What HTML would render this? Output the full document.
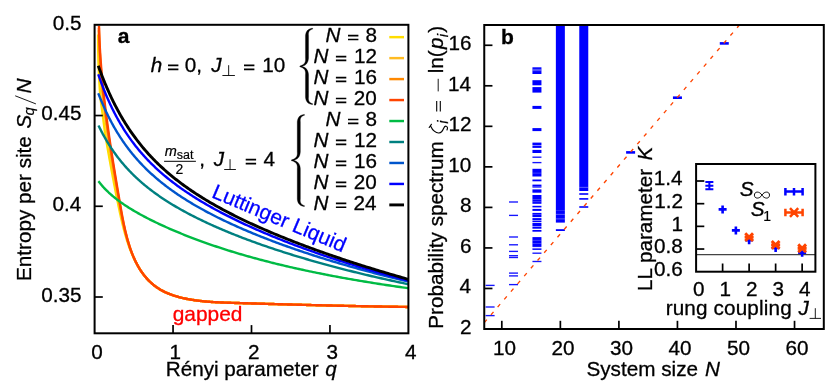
<!DOCTYPE html>
<html><head><meta charset="utf-8"><title>fig</title>
<style>html,body{margin:0;padding:0;background:#fff;width:830px;height:386px;overflow:hidden}</style>
</head><body>
<svg width="830" height="386" viewBox="0 0 830 386" style="position:absolute;left:0;top:0;will-change:transform" font-family='"Liberation Sans", sans-serif' font-size="20.7">
<rect width="830" height="386" fill="#fff"/>
<clipPath id="ca"><rect x="94.6" y="24.8" width="313.79999999999995" height="308.5"/></clipPath>
<g clip-path="url(#ca)" fill="none" stroke-width="2.4" stroke-linejoin="round">
<path d="M98.17,34.44 L98.16,35.51 L98.16,36.57 L98.15,37.64 L98.15,38.70 L98.15,39.77 L98.15,40.83 L98.15,41.89 L98.15,42.96 L98.16,44.02 L98.16,45.08 L98.17,46.14 L98.18,47.20 L98.19,48.26 L98.20,49.32 L98.22,50.38 L98.23,51.44 L98.25,52.50 L98.27,53.56 L98.29,54.62 L98.31,55.68 L98.33,56.74 L98.36,57.79 L98.38,58.85 L98.41,59.91 L98.44,60.96 L98.48,62.02 L98.51,63.07 L98.55,64.13 L98.59,65.18 L98.63,66.24 L98.67,67.29 L98.71,68.35 L98.76,69.40 L98.80,70.45 L98.85,71.51 L98.90,72.56 L98.95,73.61 L99.00,74.66 L99.05,75.71 L99.10,76.77 L99.16,77.82 L99.21,78.87 L99.27,79.92 L99.33,80.97 L99.39,82.02 L99.45,83.07 L99.51,84.12 L99.57,85.17 L99.64,86.22 L99.70,87.26 L99.77,88.31 L99.84,89.36 L99.91,90.41 L99.98,91.46 L100.05,92.50 L100.12,93.55 L100.19,94.60 L100.27,95.65 L100.34,96.69 L100.42,97.74 L100.54,98.79 L100.68,99.83 L100.82,100.88 L100.96,101.92 L101.10,102.97 L101.25,104.01 L101.39,105.06 L101.53,106.10 L101.68,107.15 L101.83,108.19 L101.97,109.24 L102.12,110.28 L102.27,111.33 L102.42,112.37 L102.57,113.41 L102.72,114.46 L102.86,115.50 L102.99,116.54 L103.11,117.59 L103.24,118.63 L103.36,119.67 L103.49,120.72 L103.62,121.76 L103.75,122.80 L103.88,123.84 L104.01,124.89 L104.14,125.93 L104.27,126.97 L104.41,128.01 L104.54,129.05 L104.68,130.10 L104.81,131.14 L104.95,132.18 L105.09,133.22 L105.26,134.26 L105.44,135.30 L105.61,136.34 L105.79,137.39 L105.96,138.43 L106.14,139.47 L106.31,140.51 L106.49,141.55 L106.67,142.59 L106.85,143.63 L107.03,144.67 L107.21,145.71 L107.39,146.76 L107.57,147.80 L107.75,148.84 L107.93,149.88 L108.12,150.92 L108.30,151.96 L108.48,153.00 L108.67,154.04 L108.86,155.08 L109.04,156.12 L109.23,157.16 L109.41,158.21 L109.60,159.25 L109.79,160.29 L109.98,161.33 L110.17,162.37 L110.36,163.41 L110.55,164.45 L110.74,165.49 L110.93,166.53 L111.12,167.58 L111.31,168.62 L111.50,169.66 L111.70,170.70 L111.89,171.74 L112.08,172.78 L112.28,173.82 L112.47,174.87 L112.67,175.91 L112.86,176.95 L113.06,177.99 L113.25,179.03 L113.45,180.08 L113.65,181.12 L113.84,182.16 L114.04,183.20 L114.24,184.25 L114.43,185.29 L114.63,186.33 L114.83,187.38 L115.03,188.42 L115.23,189.46 L115.43,190.51 L115.63,191.55 L115.83,192.59 L116.05,193.64 L116.26,194.68 L116.47,195.72 L116.69,196.77 L116.90,197.81 L117.11,198.86 L117.33,199.90 L117.54,200.95 L117.75,201.99 L117.97,203.04 L118.18,204.09 L118.40,205.13 L118.61,206.18 L118.83,207.22 L119.05,208.27 L119.27,209.31 L119.49,210.36 L119.71,211.41 L119.93,212.45 L120.15,213.50 L120.38,214.54 L120.61,215.59 L120.84,216.64 L121.07,217.68 L121.31,218.73 L121.55,219.77 L121.79,220.82 L122.04,221.86 L122.28,222.91 L122.54,223.95 L122.79,224.99 L123.05,226.04 L123.31,227.08 L123.58,228.12 L123.85,229.16 L124.13,230.21 L124.40,231.25 L124.68,232.29 L124.97,233.33 L125.26,234.37 L125.56,235.41 L125.86,236.44 L126.17,237.48 L126.48,238.52 L126.80,239.56 L127.12,240.59 L127.45,241.63 L127.79,242.66 L128.14,243.69 L128.49,244.72 L128.85,245.75 L129.21,246.78 L129.58,247.80 L129.96,248.82 L130.35,249.84 L130.74,250.85 L131.14,251.86 L131.55,252.87 L131.96,253.87 L132.39,254.87 L132.82,255.86 L133.26,256.85 L133.71,257.83 L134.17,258.80 L134.63,259.77 L135.11,260.73 L135.60,261.68 L136.09,262.63 L136.60,263.57 L137.11,264.50 L137.63,265.43 L138.14,266.34 L138.66,267.25 L139.19,268.14 L139.74,269.03 L140.29,269.91 L140.86,270.77 L141.43,271.63 L142.02,272.48 L142.62,273.31 L143.23,274.14 L143.85,274.95 L144.48,275.75 L145.13,276.54 L145.78,277.32 L146.45,278.09 L147.12,278.85 L147.81,279.59 L148.51,280.32 L149.23,281.04 L149.95,281.74 L150.68,282.44 L151.43,283.12 L152.19,283.78 L152.96,284.44 L153.74,285.08 L154.53,285.70 L155.34,286.31 L156.15,286.91 L156.98,287.49 L157.82,288.06 L158.67,288.61 L159.53,289.15 L160.41,289.67 L161.30,290.18 L162.19,290.67 L163.10,291.15 L164.02,291.61 L164.95,292.06 L165.89,292.50 L166.84,292.92 L167.79,293.33 L168.76,293.73 L169.73,294.11 L170.71,294.48 L171.70,294.84 L172.70,295.19 L173.70,295.53 L174.71,295.85 L175.72,296.16 L176.74,296.47 L177.77,296.76 L178.80,297.04 L179.83,297.31 L180.87,297.57 L181.91,297.83 L182.95,298.07 L184.00,298.30 L185.05,298.53 L186.10,298.74 L187.15,298.95 L188.21,299.15 L189.26,299.35 L190.32,299.53 L191.37,299.71 L192.43,299.88 L193.49,300.04 L194.54,300.20 L195.60,300.35 L196.66,300.50 L197.71,300.64 L198.77,300.77 L199.83,300.89 L200.89,301.02 L201.95,301.13 L203.01,301.24 L204.07,301.35 L205.12,301.45 L206.18,301.54 L207.24,301.63 L208.30,301.72 L209.36,301.80 L210.42,301.88 L211.48,301.95 L212.54,302.02 L213.60,302.09 L214.66,302.15 L215.72,302.21 L216.78,302.27 L217.84,302.32 L218.90,302.37 L219.96,302.42 L221.02,302.47 L222.08,302.51 L223.14,302.56 L224.20,302.60 L225.26,302.64 L226.32,302.67 L227.38,302.71 L228.44,302.74 L229.50,302.78 L230.56,302.81 L231.62,302.84 L232.68,302.88 L233.74,302.91 L234.80,302.94 L235.86,302.97 L236.92,303.00 L237.98,303.03 L239.04,303.07 L240.10,303.10 L241.16,303.13 L242.22,303.16 L243.27,303.19 L244.33,303.22 L245.39,303.25 L246.45,303.28 L247.51,303.32 L248.56,303.35 L249.62,303.38 L250.68,303.41 L251.74,303.44 L252.79,303.47 L253.85,303.50 L254.91,303.53 L255.97,303.56 L257.02,303.59 L258.08,303.62 L259.14,303.65 L260.19,303.68 L261.25,303.71 L262.31,303.75 L263.36,303.78 L264.42,303.81 L265.47,303.84 L266.53,303.87 L267.59,303.90 L268.64,303.93 L269.70,303.95 L270.75,303.98 L271.81,304.01 L272.87,304.04 L273.92,304.07 L274.98,304.10 L276.03,304.13 L277.09,304.16 L278.14,304.19 L279.20,304.22 L280.25,304.25 L281.31,304.28 L282.36,304.31 L283.42,304.34 L284.47,304.36 L285.53,304.39 L286.58,304.42 L287.64,304.45 L288.69,304.48 L289.75,304.51 L290.80,304.53 L291.86,304.56 L292.91,304.59 L293.97,304.62 L295.02,304.65 L296.08,304.67 L297.13,304.70 L298.18,304.73 L299.24,304.76 L300.29,304.78 L301.35,304.81 L302.40,304.84 L303.46,304.87 L304.51,304.89 L305.57,304.92 L306.62,304.95 L307.67,304.97 L308.73,305.00 L309.78,305.03 L310.84,305.05 L311.89,305.08 L312.95,305.11 L314.00,305.13 L315.05,305.16 L316.11,305.18 L317.16,305.21 L318.22,305.24 L319.27,305.26 L320.33,305.29 L321.38,305.31 L322.43,305.34 L323.49,305.36 L324.54,305.39 L325.60,305.41 L326.65,305.44 L327.71,305.46 L328.76,305.49 L329.82,305.51 L330.87,305.54 L331.93,305.56 L332.98,305.58 L334.03,305.61 L335.09,305.63 L336.14,305.66 L337.20,305.68 L338.25,305.70 L339.31,305.73 L340.36,305.75 L341.42,305.77 L342.47,305.80 L343.53,305.82 L344.58,305.84 L345.64,305.87 L346.69,305.89 L347.75,305.91 L348.81,305.93 L349.86,305.96 L350.92,305.98 L351.97,306.00 L353.03,306.02 L354.08,306.04 L355.14,306.06 L356.20,306.09 L357.25,306.11 L358.31,306.13 L359.36,306.15 L360.42,306.17 L361.48,306.19 L362.53,306.21 L363.59,306.23 L364.65,306.25 L365.70,306.27 L366.76,306.29 L367.82,306.31 L368.87,306.33 L369.93,306.35 L370.99,306.37 L372.05,306.39 L373.10,306.41 L374.16,306.43 L375.22,306.45 L376.28,306.47 L377.33,306.49 L378.39,306.51 L379.45,306.52 L380.51,306.54 L381.57,306.56 L382.63,306.58 L383.68,306.60 L384.74,306.61 L385.80,306.63 L386.86,306.65 L387.92,306.67 L388.98,306.68 L390.04,306.70 L391.10,306.72 L392.16,306.73 L393.22,306.75 L394.28,306.77 L395.34,306.78 L396.40,306.80 L397.46,306.81 L398.52,306.83 L399.58,306.85 L400.64,306.86 L401.70,306.88 L402.76,306.89 L403.82,306.91 L404.89,306.92 L405.95,306.94 L407.01,306.95 L408.07,306.96" stroke="#ffdd00"/>
<path d="M98.77,30.17 L98.79,31.24 L98.82,32.31 L98.84,33.38 L98.86,34.44 L98.89,35.51 L98.91,36.57 L98.94,37.64 L98.97,38.70 L98.99,39.77 L99.03,40.83 L99.06,41.89 L99.09,42.96 L99.13,44.02 L99.16,45.08 L99.20,46.14 L99.24,47.20 L99.28,48.26 L99.33,49.32 L99.37,50.38 L99.42,51.44 L99.46,52.50 L99.51,53.56 L99.56,54.62 L99.61,55.68 L99.67,56.74 L99.72,57.79 L99.78,58.85 L99.84,59.91 L99.90,60.96 L99.96,62.02 L100.02,63.07 L100.09,64.13 L100.15,65.18 L100.22,66.24 L100.29,67.29 L100.36,68.35 L100.43,69.40 L100.50,70.45 L100.58,71.51 L100.65,72.56 L100.73,73.61 L100.80,74.66 L100.88,75.71 L100.96,76.77 L101.05,77.82 L101.13,78.87 L101.21,79.92 L101.30,80.97 L101.38,82.02 L101.47,83.07 L101.56,84.12 L101.65,85.17 L101.74,86.22 L101.83,87.26 L101.93,88.31 L102.02,89.36 L102.12,90.41 L102.21,91.46 L102.31,92.50 L102.41,93.55 L102.51,94.60 L102.61,95.65 L102.72,96.69 L102.82,97.74 L102.94,98.79 L103.07,99.83 L103.19,100.88 L103.32,101.92 L103.45,102.97 L103.58,104.01 L103.71,105.06 L103.85,106.10 L103.98,107.15 L104.11,108.19 L104.25,109.24 L104.39,110.28 L104.52,111.33 L104.66,112.37 L104.80,113.41 L104.94,114.46 L105.08,115.50 L105.21,116.54 L105.34,117.59 L105.47,118.63 L105.61,119.67 L105.74,120.72 L105.88,121.76 L106.02,122.80 L106.15,123.84 L106.29,124.89 L106.43,125.93 L106.57,126.97 L106.71,128.01 L106.85,129.05 L107.00,130.10 L107.14,131.14 L107.28,132.18 L107.43,133.22 L107.59,134.26 L107.75,135.30 L107.90,136.34 L108.06,137.39 L108.22,138.43 L108.39,139.47 L108.55,140.51 L108.71,141.55 L108.87,142.59 L109.04,143.63 L109.20,144.67 L109.37,145.71 L109.53,146.76 L109.70,147.80 L109.86,148.84 L110.03,149.88 L110.20,150.92 L110.37,151.96 L110.54,153.00 L110.71,154.04 L110.88,155.08 L111.05,156.12 L111.22,157.16 L111.39,158.21 L111.57,159.25 L111.74,160.29 L111.91,161.33 L112.09,162.37 L112.26,163.41 L112.44,164.45 L112.61,165.49 L112.79,166.53 L112.97,167.58 L113.14,168.62 L113.32,169.66 L113.50,170.70 L113.68,171.74 L113.85,172.78 L114.03,173.82 L114.21,174.87 L114.39,175.91 L114.57,176.95 L114.75,177.99 L114.93,179.03 L115.12,180.08 L115.30,181.12 L115.48,182.16 L115.66,183.20 L115.84,184.25 L116.03,185.29 L116.21,186.33 L116.39,187.38 L116.58,188.42 L116.76,189.46 L116.94,190.51 L117.13,191.55 L117.32,192.59 L117.51,193.64 L117.69,194.68 L117.88,195.72 L118.07,196.77 L118.26,197.81 L118.45,198.86 L118.65,199.90 L118.84,200.95 L119.03,201.99 L119.22,203.04 L119.41,204.09 L119.60,205.13 L119.79,206.18 L119.99,207.22 L120.18,208.27 L120.38,209.31 L120.57,210.36 L120.77,211.41 L120.97,212.45 L121.17,213.50 L121.37,214.54 L121.58,215.59 L121.79,216.64 L122.00,217.68 L122.21,218.73 L122.43,219.77 L122.65,220.82 L122.87,221.86 L123.09,222.91 L123.32,223.95 L123.55,224.99 L123.79,226.04 L124.03,227.08 L124.27,228.12 L124.52,229.16 L124.77,230.21 L125.03,231.25 L125.29,232.29 L125.56,233.33 L125.83,234.37 L126.10,235.41 L126.38,236.44 L126.67,237.48 L126.96,238.52 L127.26,239.56 L127.57,240.59 L127.88,241.63 L128.20,242.66 L128.52,243.69 L128.85,244.72 L129.19,245.75 L129.53,246.78 L129.88,247.80 L130.24,248.82 L130.61,249.84 L130.99,250.85 L131.37,251.86 L131.76,252.87 L132.15,253.87 L132.56,254.87 L132.98,255.86 L133.40,256.85 L133.83,257.83 L134.27,258.80 L134.72,259.77 L135.18,260.73 L135.65,261.68 L136.13,262.63 L136.62,263.57 L137.12,264.50 L137.63,265.43 L138.14,266.34 L138.66,267.25 L139.19,268.14 L139.74,269.03 L140.29,269.91 L140.86,270.77 L141.43,271.63 L142.02,272.48 L142.62,273.31 L143.23,274.14 L143.85,274.95 L144.48,275.75 L145.13,276.54 L145.78,277.32 L146.45,278.09 L147.12,278.85 L147.81,279.59 L148.51,280.32 L149.23,281.04 L149.95,281.74 L150.68,282.44 L151.43,283.12 L152.19,283.78 L152.96,284.44 L153.74,285.08 L154.53,285.70 L155.34,286.31 L156.15,286.91 L156.98,287.49 L157.82,288.06 L158.67,288.61 L159.53,289.15 L160.41,289.67 L161.30,290.18 L162.19,290.67 L163.10,291.15 L164.02,291.61 L164.95,292.06 L165.89,292.50 L166.84,292.92 L167.79,293.33 L168.76,293.73 L169.73,294.11 L170.71,294.48 L171.70,294.84 L172.70,295.19 L173.70,295.53 L174.71,295.85 L175.72,296.16 L176.74,296.47 L177.77,296.76 L178.80,297.04 L179.83,297.31 L180.87,297.57 L181.91,297.83 L182.95,298.07 L184.00,298.30 L185.05,298.53 L186.10,298.74 L187.15,298.95 L188.21,299.15 L189.26,299.35 L190.32,299.53 L191.37,299.71 L192.43,299.88 L193.49,300.04 L194.54,300.20 L195.60,300.35 L196.66,300.50 L197.71,300.64 L198.77,300.77 L199.83,300.89 L200.89,301.02 L201.95,301.13 L203.01,301.24 L204.07,301.35 L205.12,301.45 L206.18,301.54 L207.24,301.63 L208.30,301.72 L209.36,301.80 L210.42,301.88 L211.48,301.95 L212.54,302.02 L213.60,302.09 L214.66,302.15 L215.72,302.21 L216.78,302.27 L217.84,302.32 L218.90,302.37 L219.96,302.42 L221.02,302.47 L222.08,302.51 L223.14,302.56 L224.20,302.60 L225.26,302.64 L226.32,302.67 L227.38,302.71 L228.44,302.74 L229.50,302.78 L230.56,302.81 L231.62,302.84 L232.68,302.88 L233.74,302.91 L234.80,302.94 L235.86,302.97 L236.92,303.00 L237.98,303.03 L239.04,303.07 L240.10,303.10 L241.16,303.13 L242.22,303.16 L243.27,303.19 L244.33,303.22 L245.39,303.25 L246.45,303.28 L247.51,303.32 L248.56,303.35 L249.62,303.38 L250.68,303.41 L251.74,303.44 L252.79,303.47 L253.85,303.50 L254.91,303.53 L255.97,303.56 L257.02,303.59 L258.08,303.62 L259.14,303.65 L260.19,303.68 L261.25,303.71 L262.31,303.75 L263.36,303.78 L264.42,303.81 L265.47,303.84 L266.53,303.87 L267.59,303.90 L268.64,303.93 L269.70,303.95 L270.75,303.98 L271.81,304.01 L272.87,304.04 L273.92,304.07 L274.98,304.10 L276.03,304.13 L277.09,304.16 L278.14,304.19 L279.20,304.22 L280.25,304.25 L281.31,304.28 L282.36,304.31 L283.42,304.34 L284.47,304.36 L285.53,304.39 L286.58,304.42 L287.64,304.45 L288.69,304.48 L289.75,304.51 L290.80,304.53 L291.86,304.56 L292.91,304.59 L293.97,304.62 L295.02,304.65 L296.08,304.67 L297.13,304.70 L298.18,304.73 L299.24,304.76 L300.29,304.78 L301.35,304.81 L302.40,304.84 L303.46,304.87 L304.51,304.89 L305.57,304.92 L306.62,304.95 L307.67,304.97 L308.73,305.00 L309.78,305.03 L310.84,305.05 L311.89,305.08 L312.95,305.11 L314.00,305.13 L315.05,305.16 L316.11,305.18 L317.16,305.21 L318.22,305.24 L319.27,305.26 L320.33,305.29 L321.38,305.31 L322.43,305.34 L323.49,305.36 L324.54,305.39 L325.60,305.41 L326.65,305.44 L327.71,305.46 L328.76,305.49 L329.82,305.51 L330.87,305.54 L331.93,305.56 L332.98,305.58 L334.03,305.61 L335.09,305.63 L336.14,305.66 L337.20,305.68 L338.25,305.70 L339.31,305.73 L340.36,305.75 L341.42,305.77 L342.47,305.80 L343.53,305.82 L344.58,305.84 L345.64,305.87 L346.69,305.89 L347.75,305.91 L348.81,305.93 L349.86,305.96 L350.92,305.98 L351.97,306.00 L353.03,306.02 L354.08,306.04 L355.14,306.06 L356.20,306.09 L357.25,306.11 L358.31,306.13 L359.36,306.15 L360.42,306.17 L361.48,306.19 L362.53,306.21 L363.59,306.23 L364.65,306.25 L365.70,306.27 L366.76,306.29 L367.82,306.31 L368.87,306.33 L369.93,306.35 L370.99,306.37 L372.05,306.39 L373.10,306.41 L374.16,306.43 L375.22,306.45 L376.28,306.47 L377.33,306.49 L378.39,306.51 L379.45,306.52 L380.51,306.54 L381.57,306.56 L382.63,306.58 L383.68,306.60 L384.74,306.61 L385.80,306.63 L386.86,306.65 L387.92,306.67 L388.98,306.68 L390.04,306.70 L391.10,306.72 L392.16,306.73 L393.22,306.75 L394.28,306.77 L395.34,306.78 L396.40,306.80 L397.46,306.81 L398.52,306.83 L399.58,306.85 L400.64,306.86 L401.70,306.88 L402.76,306.89 L403.82,306.91 L404.89,306.92 L405.95,306.94 L407.01,306.95 L408.07,306.96" stroke="#ffbb22"/>
<path d="M98.91,28.04 L98.93,29.11 L98.96,30.17 L98.99,31.24 L99.02,32.31 L99.05,33.38 L99.08,34.44 L99.11,35.51 L99.14,36.57 L99.18,37.64 L99.22,38.70 L99.26,39.77 L99.30,40.83 L99.34,41.89 L99.38,42.96 L99.43,44.02 L99.47,45.08 L99.52,46.14 L99.57,47.20 L99.62,48.26 L99.67,49.32 L99.73,50.38 L99.78,51.44 L99.84,52.50 L99.90,53.56 L99.96,54.62 L100.02,55.68 L100.08,56.74 L100.14,57.79 L100.21,58.85 L100.27,59.91 L100.34,60.96 L100.41,62.02 L100.49,63.07 L100.56,64.13 L100.63,65.18 L100.71,66.24 L100.79,67.29 L100.86,68.35 L100.94,69.40 L101.02,70.45 L101.11,71.51 L101.19,72.56 L101.27,73.61 L101.36,74.66 L101.45,75.71 L101.54,76.77 L101.63,77.82 L101.72,78.87 L101.81,79.92 L101.90,80.97 L102.00,82.02 L102.09,83.07 L102.19,84.12 L102.29,85.17 L102.39,86.22 L102.49,87.26 L102.59,88.31 L102.69,89.36 L102.80,90.41 L102.90,91.46 L103.01,92.50 L103.12,93.55 L103.22,94.60 L103.33,95.65 L103.45,96.69 L103.56,97.74 L103.68,98.79 L103.80,99.83 L103.92,100.88 L104.05,101.92 L104.17,102.97 L104.30,104.01 L104.43,105.06 L104.56,106.10 L104.69,107.15 L104.82,108.19 L104.95,109.24 L105.08,110.28 L105.22,111.33 L105.35,112.37 L105.49,113.41 L105.62,114.46 L105.76,115.50 L105.89,116.54 L106.03,117.59 L106.16,118.63 L106.30,119.67 L106.44,120.72 L106.57,121.76 L106.71,122.80 L106.85,123.84 L106.99,124.89 L107.13,125.93 L107.28,126.97 L107.42,128.01 L107.56,129.05 L107.71,130.10 L107.85,131.14 L108.00,132.18 L108.15,133.22 L108.30,134.26 L108.45,135.30 L108.61,136.34 L108.76,137.39 L108.92,138.43 L109.08,139.47 L109.23,140.51 L109.39,141.55 L109.55,142.59 L109.71,143.63 L109.87,144.67 L110.03,145.71 L110.19,146.76 L110.35,147.80 L110.51,148.84 L110.68,149.88 L110.84,150.92 L111.01,151.96 L111.17,153.00 L111.34,154.04 L111.50,155.08 L111.67,156.12 L111.83,157.16 L112.00,158.21 L112.17,159.25 L112.34,160.29 L112.51,161.33 L112.68,162.37 L112.85,163.41 L113.02,164.45 L113.19,165.49 L113.36,166.53 L113.53,167.58 L113.71,168.62 L113.88,169.66 L114.05,170.70 L114.22,171.74 L114.40,172.78 L114.57,173.82 L114.75,174.87 L114.92,175.91 L115.10,176.95 L115.27,177.99 L115.45,179.03 L115.63,180.08 L115.80,181.12 L115.98,182.16 L116.16,183.20 L116.34,184.25 L116.52,185.29 L116.69,186.33 L116.87,187.38 L117.05,188.42 L117.23,189.46 L117.41,190.51 L117.59,191.55 L117.77,192.59 L117.95,193.64 L118.14,194.68 L118.32,195.72 L118.50,196.77 L118.68,197.81 L118.87,198.86 L119.05,199.90 L119.23,200.95 L119.42,201.99 L119.60,203.04 L119.79,204.09 L119.97,205.13 L120.16,206.18 L120.34,207.22 L120.53,208.27 L120.72,209.31 L120.91,210.36 L121.10,211.41 L121.29,212.45 L121.48,213.50 L121.68,214.54 L121.88,215.59 L122.08,216.64 L122.28,217.68 L122.49,218.73 L122.70,219.77 L122.91,220.82 L123.12,221.86 L123.34,222.91 L123.56,223.95 L123.79,224.99 L124.02,226.04 L124.25,227.08 L124.49,228.12 L124.73,229.16 L124.97,230.21 L125.22,231.25 L125.48,232.29 L125.74,233.33 L126.00,234.37 L126.27,235.41 L126.54,236.44 L126.83,237.48 L127.11,238.52 L127.40,239.56 L127.70,240.59 L128.01,241.63 L128.32,242.66 L128.64,243.69 L128.96,244.72 L129.29,245.75 L129.63,246.78 L129.98,247.80 L130.33,248.82 L130.69,249.84 L131.06,250.85 L131.44,251.86 L131.82,252.87 L132.21,253.87 L132.61,254.87 L133.02,255.86 L133.44,256.85 L133.87,257.83 L134.31,258.80 L134.75,259.77 L135.21,260.73 L135.67,261.68 L136.15,262.63 L136.63,263.57 L137.12,264.50 L137.63,265.43 L138.14,266.34 L138.66,267.25 L139.19,268.14 L139.74,269.03 L140.29,269.91 L140.86,270.77 L141.43,271.63 L142.02,272.48 L142.62,273.31 L143.23,274.14 L143.85,274.95 L144.48,275.75 L145.13,276.54 L145.78,277.32 L146.45,278.09 L147.12,278.85 L147.81,279.59 L148.51,280.32 L149.23,281.04 L149.95,281.74 L150.68,282.44 L151.43,283.12 L152.19,283.78 L152.96,284.44 L153.74,285.08 L154.53,285.70 L155.34,286.31 L156.15,286.91 L156.98,287.49 L157.82,288.06 L158.67,288.61 L159.53,289.15 L160.41,289.67 L161.30,290.18 L162.19,290.67 L163.10,291.15 L164.02,291.61 L164.95,292.06 L165.89,292.50 L166.84,292.92 L167.79,293.33 L168.76,293.73 L169.73,294.11 L170.71,294.48 L171.70,294.84 L172.70,295.19 L173.70,295.53 L174.71,295.85 L175.72,296.16 L176.74,296.47 L177.77,296.76 L178.80,297.04 L179.83,297.31 L180.87,297.57 L181.91,297.83 L182.95,298.07 L184.00,298.30 L185.05,298.53 L186.10,298.74 L187.15,298.95 L188.21,299.15 L189.26,299.35 L190.32,299.53 L191.37,299.71 L192.43,299.88 L193.49,300.04 L194.54,300.20 L195.60,300.35 L196.66,300.50 L197.71,300.64 L198.77,300.77 L199.83,300.89 L200.89,301.02 L201.95,301.13 L203.01,301.24 L204.07,301.35 L205.12,301.45 L206.18,301.54 L207.24,301.63 L208.30,301.72 L209.36,301.80 L210.42,301.88 L211.48,301.95 L212.54,302.02 L213.60,302.09 L214.66,302.15 L215.72,302.21 L216.78,302.27 L217.84,302.32 L218.90,302.37 L219.96,302.42 L221.02,302.47 L222.08,302.51 L223.14,302.56 L224.20,302.60 L225.26,302.64 L226.32,302.67 L227.38,302.71 L228.44,302.74 L229.50,302.78 L230.56,302.81 L231.62,302.84 L232.68,302.88 L233.74,302.91 L234.80,302.94 L235.86,302.97 L236.92,303.00 L237.98,303.03 L239.04,303.07 L240.10,303.10 L241.16,303.13 L242.22,303.16 L243.27,303.19 L244.33,303.22 L245.39,303.25 L246.45,303.28 L247.51,303.32 L248.56,303.35 L249.62,303.38 L250.68,303.41 L251.74,303.44 L252.79,303.47 L253.85,303.50 L254.91,303.53 L255.97,303.56 L257.02,303.59 L258.08,303.62 L259.14,303.65 L260.19,303.68 L261.25,303.71 L262.31,303.75 L263.36,303.78 L264.42,303.81 L265.47,303.84 L266.53,303.87 L267.59,303.90 L268.64,303.93 L269.70,303.95 L270.75,303.98 L271.81,304.01 L272.87,304.04 L273.92,304.07 L274.98,304.10 L276.03,304.13 L277.09,304.16 L278.14,304.19 L279.20,304.22 L280.25,304.25 L281.31,304.28 L282.36,304.31 L283.42,304.34 L284.47,304.36 L285.53,304.39 L286.58,304.42 L287.64,304.45 L288.69,304.48 L289.75,304.51 L290.80,304.53 L291.86,304.56 L292.91,304.59 L293.97,304.62 L295.02,304.65 L296.08,304.67 L297.13,304.70 L298.18,304.73 L299.24,304.76 L300.29,304.78 L301.35,304.81 L302.40,304.84 L303.46,304.87 L304.51,304.89 L305.57,304.92 L306.62,304.95 L307.67,304.97 L308.73,305.00 L309.78,305.03 L310.84,305.05 L311.89,305.08 L312.95,305.11 L314.00,305.13 L315.05,305.16 L316.11,305.18 L317.16,305.21 L318.22,305.24 L319.27,305.26 L320.33,305.29 L321.38,305.31 L322.43,305.34 L323.49,305.36 L324.54,305.39 L325.60,305.41 L326.65,305.44 L327.71,305.46 L328.76,305.49 L329.82,305.51 L330.87,305.54 L331.93,305.56 L332.98,305.58 L334.03,305.61 L335.09,305.63 L336.14,305.66 L337.20,305.68 L338.25,305.70 L339.31,305.73 L340.36,305.75 L341.42,305.77 L342.47,305.80 L343.53,305.82 L344.58,305.84 L345.64,305.87 L346.69,305.89 L347.75,305.91 L348.81,305.93 L349.86,305.96 L350.92,305.98 L351.97,306.00 L353.03,306.02 L354.08,306.04 L355.14,306.06 L356.20,306.09 L357.25,306.11 L358.31,306.13 L359.36,306.15 L360.42,306.17 L361.48,306.19 L362.53,306.21 L363.59,306.23 L364.65,306.25 L365.70,306.27 L366.76,306.29 L367.82,306.31 L368.87,306.33 L369.93,306.35 L370.99,306.37 L372.05,306.39 L373.10,306.41 L374.16,306.43 L375.22,306.45 L376.28,306.47 L377.33,306.49 L378.39,306.51 L379.45,306.52 L380.51,306.54 L381.57,306.56 L382.63,306.58 L383.68,306.60 L384.74,306.61 L385.80,306.63 L386.86,306.65 L387.92,306.67 L388.98,306.68 L390.04,306.70 L391.10,306.72 L392.16,306.73 L393.22,306.75 L394.28,306.77 L395.34,306.78 L396.40,306.80 L397.46,306.81 L398.52,306.83 L399.58,306.85 L400.64,306.86 L401.70,306.88 L402.76,306.89 L403.82,306.91 L404.89,306.92 L405.95,306.94 L407.01,306.95 L408.07,306.96" stroke="#ff8800"/>
<path d="M98.98,25.90 L99.01,26.97 L99.04,28.04 L99.07,29.11 L99.10,30.17 L99.13,31.24 L99.17,32.31 L99.20,33.38 L99.24,34.44 L99.28,35.51 L99.32,36.57 L99.36,37.64 L99.41,38.70 L99.45,39.77 L99.50,40.83 L99.55,41.89 L99.60,42.96 L99.65,44.02 L99.70,45.08 L99.76,46.14 L99.81,47.20 L99.87,48.26 L99.93,49.32 L99.99,50.38 L100.05,51.44 L100.12,52.50 L100.18,53.56 L100.25,54.62 L100.32,55.68 L100.39,56.74 L100.46,57.79 L100.53,58.85 L100.60,59.91 L100.68,60.96 L100.76,62.02 L100.83,63.07 L100.91,64.13 L100.99,65.18 L101.07,66.24 L101.16,67.29 L101.24,68.35 L101.33,69.40 L101.42,70.45 L101.50,71.51 L101.59,72.56 L101.69,73.61 L101.78,74.66 L101.87,75.71 L101.97,76.77 L102.06,77.82 L102.16,78.87 L102.26,79.92 L102.36,80.97 L102.46,82.02 L102.56,83.07 L102.66,84.12 L102.77,85.17 L102.87,86.22 L102.98,87.26 L103.09,88.31 L103.20,89.36 L103.31,90.41 L103.42,91.46 L103.53,92.50 L103.65,93.55 L103.76,94.60 L103.88,95.65 L103.99,96.69 L104.11,97.74 L104.23,98.79 L104.35,99.83 L104.47,100.88 L104.59,101.92 L104.72,102.97 L104.84,104.01 L104.96,105.06 L105.09,106.10 L105.22,107.15 L105.35,108.19 L105.47,109.24 L105.60,110.28 L105.74,111.33 L105.87,112.37 L106.00,113.41 L106.13,114.46 L106.27,115.50 L106.40,116.54 L106.54,117.59 L106.68,118.63 L106.82,119.67 L106.96,120.72 L107.10,121.76 L107.24,122.80 L107.38,123.84 L107.52,124.89 L107.66,125.93 L107.81,126.97 L107.95,128.01 L108.10,129.05 L108.24,130.10 L108.39,131.14 L108.54,132.18 L108.69,133.22 L108.84,134.26 L108.99,135.30 L109.14,136.34 L109.29,137.39 L109.44,138.43 L109.60,139.47 L109.75,140.51 L109.90,141.55 L110.06,142.59 L110.21,143.63 L110.37,144.67 L110.53,145.71 L110.69,146.76 L110.84,147.80 L111.00,148.84 L111.16,149.88 L111.32,150.92 L111.48,151.96 L111.64,153.00 L111.81,154.04 L111.97,155.08 L112.13,156.12 L112.30,157.16 L112.46,158.21 L112.62,159.25 L112.79,160.29 L112.95,161.33 L113.12,162.37 L113.29,163.41 L113.45,164.45 L113.62,165.49 L113.79,166.53 L113.96,167.58 L114.13,168.62 L114.30,169.66 L114.47,170.70 L114.64,171.74 L114.81,172.78 L114.98,173.82 L115.15,174.87 L115.32,175.91 L115.49,176.95 L115.67,177.99 L115.84,179.03 L116.01,180.08 L116.19,181.12 L116.36,182.16 L116.53,183.20 L116.71,184.25 L116.88,185.29 L117.06,186.33 L117.23,187.38 L117.41,188.42 L117.58,189.46 L117.76,190.51 L117.94,191.55 L118.11,192.59 L118.29,193.64 L118.47,194.68 L118.64,195.72 L118.82,196.77 L119.00,197.81 L119.18,198.86 L119.36,199.90 L119.53,200.95 L119.71,201.99 L119.89,203.04 L120.07,204.09 L120.25,205.13 L120.43,206.18 L120.61,207.22 L120.79,208.27 L120.97,209.31 L121.16,210.36 L121.34,211.41 L121.53,212.45 L121.72,213.50 L121.91,214.54 L122.10,215.59 L122.30,216.64 L122.50,217.68 L122.70,218.73 L122.90,219.77 L123.11,220.82 L123.31,221.86 L123.53,222.91 L123.74,223.95 L123.96,224.99 L124.19,226.04 L124.41,227.08 L124.65,228.12 L124.88,229.16 L125.12,230.21 L125.37,231.25 L125.62,232.29 L125.87,233.33 L126.13,234.37 L126.40,235.41 L126.67,236.44 L126.94,237.48 L127.22,238.52 L127.51,239.56 L127.81,240.59 L128.11,241.63 L128.41,242.66 L128.73,243.69 L129.05,244.72 L129.37,245.75 L129.71,246.78 L130.05,247.80 L130.40,248.82 L130.75,249.84 L131.12,250.85 L131.49,251.86 L131.87,252.87 L132.26,253.87 L132.66,254.87 L133.06,255.86 L133.48,256.85 L133.90,257.83 L134.33,258.80 L134.77,259.77 L135.22,260.73 L135.68,261.68 L136.16,262.63 L136.64,263.57 L137.13,264.50 L137.63,265.43 L138.14,266.34 L138.66,267.25 L139.19,268.14 L139.74,269.03 L140.29,269.91 L140.86,270.77 L141.43,271.63 L142.02,272.48 L142.62,273.31 L143.23,274.14 L143.85,274.95 L144.48,275.75 L145.13,276.54 L145.78,277.32 L146.45,278.09 L147.12,278.85 L147.81,279.59 L148.51,280.32 L149.23,281.04 L149.95,281.74 L150.68,282.44 L151.43,283.12 L152.19,283.78 L152.96,284.44 L153.74,285.08 L154.53,285.70 L155.34,286.31 L156.15,286.91 L156.98,287.49 L157.82,288.06 L158.67,288.61 L159.53,289.15 L160.41,289.67 L161.30,290.18 L162.19,290.67 L163.10,291.15 L164.02,291.61 L164.95,292.06 L165.89,292.50 L166.84,292.92 L167.79,293.33 L168.76,293.73 L169.73,294.11 L170.71,294.48 L171.70,294.84 L172.70,295.19 L173.70,295.53 L174.71,295.85 L175.72,296.16 L176.74,296.47 L177.77,296.76 L178.80,297.04 L179.83,297.31 L180.87,297.57 L181.91,297.83 L182.95,298.07 L184.00,298.30 L185.05,298.53 L186.10,298.74 L187.15,298.95 L188.21,299.15 L189.26,299.35 L190.32,299.53 L191.37,299.71 L192.43,299.88 L193.49,300.04 L194.54,300.20 L195.60,300.35 L196.66,300.50 L197.71,300.64 L198.77,300.77 L199.83,300.89 L200.89,301.02 L201.95,301.13 L203.01,301.24 L204.07,301.35 L205.12,301.45 L206.18,301.54 L207.24,301.63 L208.30,301.72 L209.36,301.80 L210.42,301.88 L211.48,301.95 L212.54,302.02 L213.60,302.09 L214.66,302.15 L215.72,302.21 L216.78,302.27 L217.84,302.32 L218.90,302.37 L219.96,302.42 L221.02,302.47 L222.08,302.51 L223.14,302.56 L224.20,302.60 L225.26,302.64 L226.32,302.67 L227.38,302.71 L228.44,302.74 L229.50,302.78 L230.56,302.81 L231.62,302.84 L232.68,302.88 L233.74,302.91 L234.80,302.94 L235.86,302.97 L236.92,303.00 L237.98,303.03 L239.04,303.07 L240.10,303.10 L241.16,303.13 L242.22,303.16 L243.27,303.19 L244.33,303.22 L245.39,303.25 L246.45,303.28 L247.51,303.32 L248.56,303.35 L249.62,303.38 L250.68,303.41 L251.74,303.44 L252.79,303.47 L253.85,303.50 L254.91,303.53 L255.97,303.56 L257.02,303.59 L258.08,303.62 L259.14,303.65 L260.19,303.68 L261.25,303.71 L262.31,303.75 L263.36,303.78 L264.42,303.81 L265.47,303.84 L266.53,303.87 L267.59,303.90 L268.64,303.93 L269.70,303.95 L270.75,303.98 L271.81,304.01 L272.87,304.04 L273.92,304.07 L274.98,304.10 L276.03,304.13 L277.09,304.16 L278.14,304.19 L279.20,304.22 L280.25,304.25 L281.31,304.28 L282.36,304.31 L283.42,304.34 L284.47,304.36 L285.53,304.39 L286.58,304.42 L287.64,304.45 L288.69,304.48 L289.75,304.51 L290.80,304.53 L291.86,304.56 L292.91,304.59 L293.97,304.62 L295.02,304.65 L296.08,304.67 L297.13,304.70 L298.18,304.73 L299.24,304.76 L300.29,304.78 L301.35,304.81 L302.40,304.84 L303.46,304.87 L304.51,304.89 L305.57,304.92 L306.62,304.95 L307.67,304.97 L308.73,305.00 L309.78,305.03 L310.84,305.05 L311.89,305.08 L312.95,305.11 L314.00,305.13 L315.05,305.16 L316.11,305.18 L317.16,305.21 L318.22,305.24 L319.27,305.26 L320.33,305.29 L321.38,305.31 L322.43,305.34 L323.49,305.36 L324.54,305.39 L325.60,305.41 L326.65,305.44 L327.71,305.46 L328.76,305.49 L329.82,305.51 L330.87,305.54 L331.93,305.56 L332.98,305.58 L334.03,305.61 L335.09,305.63 L336.14,305.66 L337.20,305.68 L338.25,305.70 L339.31,305.73 L340.36,305.75 L341.42,305.77 L342.47,305.80 L343.53,305.82 L344.58,305.84 L345.64,305.87 L346.69,305.89 L347.75,305.91 L348.81,305.93 L349.86,305.96 L350.92,305.98 L351.97,306.00 L353.03,306.02 L354.08,306.04 L355.14,306.06 L356.20,306.09 L357.25,306.11 L358.31,306.13 L359.36,306.15 L360.42,306.17 L361.48,306.19 L362.53,306.21 L363.59,306.23 L364.65,306.25 L365.70,306.27 L366.76,306.29 L367.82,306.31 L368.87,306.33 L369.93,306.35 L370.99,306.37 L372.05,306.39 L373.10,306.41 L374.16,306.43 L375.22,306.45 L376.28,306.47 L377.33,306.49 L378.39,306.51 L379.45,306.52 L380.51,306.54 L381.57,306.56 L382.63,306.58 L383.68,306.60 L384.74,306.61 L385.80,306.63 L386.86,306.65 L387.92,306.67 L388.98,306.68 L390.04,306.70 L391.10,306.72 L392.16,306.73 L393.22,306.75 L394.28,306.77 L395.34,306.78 L396.40,306.80 L397.46,306.81 L398.52,306.83 L399.58,306.85 L400.64,306.86 L401.70,306.88 L402.76,306.89 L403.82,306.91 L404.89,306.92 L405.95,306.94 L407.01,306.95 L408.07,306.96" stroke="#ff4400"/>
<path d="M98.40,181.11 L98.45,181.17 L98.55,181.30 L98.68,181.48 L98.85,181.69 L99.04,181.94 L99.25,182.21 L99.49,182.52 L99.75,182.85 L100.03,183.19 L100.33,183.56 L100.65,183.95 L100.99,184.36 L101.34,184.78 L101.71,185.21 L102.10,185.66 L102.50,186.12 L102.91,186.59 L103.35,187.07 L103.79,187.56 L104.26,188.06 L104.73,188.56 L105.22,189.07 L105.72,189.59 L106.24,190.11 L106.77,190.64 L107.31,191.17 L107.86,191.71 L108.43,192.25 L109.01,192.79 L109.60,193.33 L110.21,193.88 L110.82,194.43 L111.45,194.98 L112.09,195.53 L112.74,196.08 L113.40,196.63 L114.07,197.19 L114.75,197.74 L115.45,198.30 L116.15,198.85 L116.87,199.40 L117.59,199.96 L118.33,200.51 L119.08,201.07 L119.83,201.62 L120.60,202.17 L121.38,202.73 L122.16,203.28 L122.96,203.83 L123.77,204.38 L124.58,204.93 L125.41,205.48 L126.25,206.03 L127.09,206.58 L127.95,207.13 L128.81,207.67 L129.68,208.22 L130.57,208.77 L131.46,209.31 L132.36,209.85 L133.27,210.40 L134.19,210.94 L135.12,211.48 L136.05,212.03 L137.00,212.57 L137.95,213.11 L138.92,213.65 L139.89,214.19 L140.87,214.73 L141.86,215.27 L142.86,215.80 L143.86,216.34 L144.88,216.88 L145.90,217.42 L146.93,217.95 L147.97,218.49 L149.02,219.02 L150.07,219.56 L151.14,220.09 L152.21,220.62 L153.29,221.16 L154.38,221.69 L155.48,222.22 L156.58,222.75 L157.69,223.28 L158.81,223.81 L159.94,224.34 L161.08,224.87 L162.22,225.40 L163.37,225.93 L164.53,226.45 L165.70,226.98 L166.87,227.50 L168.05,228.03 L169.24,228.55 L170.44,229.08 L171.64,229.60 L172.85,230.12 L174.07,230.64 L175.30,231.16 L176.53,231.68 L177.78,232.20 L179.02,232.72 L180.28,233.23 L181.54,233.75 L182.81,234.26 L184.09,234.78 L185.38,235.29 L186.67,235.80 L187.97,236.31 L189.27,236.82 L190.59,237.33 L191.91,237.83 L193.24,238.34 L194.57,238.84 L195.91,239.35 L197.26,239.85 L198.62,240.35 L199.98,240.85 L201.35,241.35 L202.72,241.85 L204.11,242.34 L205.50,242.84 L206.89,243.33 L208.30,243.82 L209.71,244.31 L211.12,244.80 L212.55,245.29 L213.98,245.77 L215.41,246.26 L216.86,246.74 L218.31,247.22 L219.76,247.70 L221.23,248.18 L222.70,248.65 L224.17,249.13 L225.66,249.60 L227.15,250.07 L228.64,250.54 L230.14,251.01 L231.65,251.48 L233.17,251.94 L234.69,252.40 L236.22,252.87 L237.75,253.32 L239.29,253.78 L240.84,254.24 L242.39,254.69 L243.95,255.14 L245.52,255.60 L247.09,256.04 L248.67,256.49 L250.26,256.94 L251.85,257.38 L253.44,257.82 L255.05,258.26 L256.66,258.70 L258.27,259.13 L259.90,259.57 L261.52,260.00 L263.16,260.43 L264.80,260.86 L266.44,261.28 L268.10,261.71 L269.76,262.13 L271.42,262.55 L273.09,262.97 L274.77,263.39 L276.45,263.80 L278.14,264.21 L279.83,264.62 L281.53,265.03 L283.24,265.44 L284.95,265.85 L286.67,266.25 L288.40,266.65 L290.13,267.05 L291.86,267.45 L293.60,267.84 L295.35,268.24 L297.11,268.63 L298.87,269.02 L300.63,269.41 L302.40,269.79 L304.18,270.18 L305.96,270.56 L307.75,270.94 L309.54,271.32 L311.34,271.69 L313.15,272.07 L314.96,272.44 L316.78,272.81 L318.60,273.18 L320.43,273.55 L322.26,273.91 L324.10,274.28 L325.95,274.64 L327.80,275.00 L329.65,275.35 L331.52,275.71 L333.38,276.06 L335.26,276.42 L337.14,276.77 L339.02,277.11 L340.91,277.46 L342.81,277.81 L344.71,278.15 L346.61,278.49 L348.53,278.83 L350.44,279.17 L352.37,279.50 L354.30,279.84 L356.23,280.17 L358.17,280.50 L360.11,280.83 L362.06,281.15 L364.02,281.48 L365.98,281.80 L367.95,282.12 L369.92,282.44 L371.90,282.76 L373.88,283.08 L375.87,283.39 L377.86,283.70 L379.86,284.02 L381.86,284.32 L383.87,284.63 L385.89,284.94 L387.91,285.24 L389.93,285.55 L391.96,285.85 L394.00,286.15 L396.04,286.44 L398.09,286.74 L400.14,287.04 L402.20,287.33 L404.26,287.62 L406.33,287.91 L408.40,288.20" stroke="#00bb44"/>
<path d="M98.50,125.49 L98.55,125.59 L98.65,125.79 L98.78,126.07 L98.95,126.41 L99.14,126.80 L99.35,127.24 L99.59,127.73 L99.85,128.25 L100.13,128.81 L100.43,129.40 L100.75,130.03 L101.09,130.69 L101.44,131.37 L101.81,132.08 L102.19,132.81 L102.60,133.56 L103.01,134.34 L103.45,135.13 L103.89,135.94 L104.35,136.77 L104.83,137.62 L105.32,138.47 L105.82,139.34 L106.34,140.22 L106.87,141.12 L107.41,142.02 L107.96,142.93 L108.53,143.85 L109.11,144.78 L109.70,145.71 L110.30,146.65 L110.92,147.59 L111.54,148.54 L112.18,149.49 L112.83,150.44 L113.49,151.40 L114.16,152.36 L114.85,153.32 L115.54,154.28 L116.25,155.24 L116.96,156.20 L117.69,157.16 L118.42,158.12 L119.17,159.07 L119.93,160.03 L120.69,160.99 L121.47,161.94 L122.26,162.89 L123.05,163.83 L123.86,164.78 L124.68,165.72 L125.50,166.65 L126.34,167.59 L127.18,168.52 L128.04,169.44 L128.90,170.37 L129.77,171.28 L130.66,172.20 L131.55,173.11 L132.45,174.01 L133.36,174.91 L134.28,175.81 L135.21,176.70 L136.14,177.58 L137.09,178.46 L138.04,179.34 L139.00,180.21 L139.98,181.08 L140.96,181.94 L141.95,182.80 L142.94,183.65 L143.95,184.50 L144.96,185.34 L145.98,186.18 L147.02,187.01 L148.05,187.84 L149.10,188.66 L150.16,189.48 L151.22,190.29 L152.29,191.10 L153.37,191.90 L154.46,192.70 L155.56,193.50 L156.66,194.29 L157.77,195.08 L158.89,195.86 L160.02,196.64 L161.16,197.41 L162.30,198.18 L163.45,198.94 L164.61,199.70 L165.77,200.46 L166.95,201.21 L168.13,201.96 L169.32,202.71 L170.51,203.45 L171.72,204.18 L172.93,204.92 L174.15,205.65 L175.37,206.37 L176.61,207.10 L177.85,207.81 L179.10,208.53 L180.35,209.24 L181.62,209.95 L182.89,210.66 L184.16,211.36 L185.45,212.06 L186.74,212.75 L188.04,213.44 L189.35,214.13 L190.66,214.82 L191.98,215.50 L193.31,216.18 L194.64,216.86 L195.98,217.53 L197.33,218.20 L198.68,218.87 L200.05,219.54 L201.41,220.20 L202.79,220.86 L204.17,221.52 L205.56,222.17 L206.96,222.82 L208.36,223.47 L209.77,224.12 L211.19,224.77 L212.61,225.41 L214.04,226.05 L215.48,226.68 L216.92,227.32 L218.37,227.95 L219.82,228.58 L221.29,229.21 L222.76,229.83 L224.23,230.46 L225.71,231.08 L227.20,231.70 L228.70,232.31 L230.20,232.93 L231.71,233.54 L233.22,234.15 L234.75,234.75 L236.27,235.36 L237.81,235.96 L239.35,236.56 L240.89,237.16 L242.45,237.76 L244.01,238.35 L245.57,238.95 L247.14,239.54 L248.72,240.12 L250.31,240.71 L251.90,241.30 L253.49,241.88 L255.10,242.46 L256.71,243.04 L258.32,243.61 L259.94,244.19 L261.57,244.76 L263.20,245.33 L264.84,245.90 L266.49,246.47 L268.14,247.03 L269.80,247.60 L271.46,248.16 L273.14,248.72 L274.81,249.27 L276.49,249.83 L278.18,250.38 L279.88,250.93 L281.58,251.48 L283.28,252.03 L284.99,252.58 L286.71,253.12 L288.44,253.66 L290.16,254.20 L291.90,254.74 L293.64,255.28 L295.39,255.81 L297.14,256.35 L298.90,256.88 L300.67,257.41 L302.44,257.94 L304.21,258.46 L305.99,258.99 L307.78,259.51 L309.58,260.03 L311.37,260.55 L313.18,261.06 L314.99,261.58 L316.81,262.09 L318.63,262.60 L320.46,263.11 L322.29,263.62 L324.13,264.13 L325.97,264.63 L327.82,265.13 L329.68,265.63 L331.54,266.13 L333.41,266.63 L335.28,267.13 L337.16,267.62 L339.04,268.11 L340.93,268.60 L342.83,269.09 L344.73,269.58 L346.63,270.06 L348.55,270.54 L350.46,271.03 L352.38,271.50 L354.31,271.98 L356.25,272.46 L358.19,272.93 L360.13,273.41 L362.08,273.88 L364.03,274.35 L365.99,274.81 L367.96,275.28 L369.93,275.74 L371.91,276.21 L373.89,276.67 L375.88,277.13 L377.87,277.58 L379.87,278.04 L381.87,278.49 L383.88,278.94 L385.90,279.40 L387.92,279.84 L389.94,280.29 L391.97,280.74 L394.01,281.18 L396.05,281.62 L398.09,282.06 L400.14,282.50 L402.20,282.94 L404.26,283.37 L406.33,283.81 L408.40,284.24" stroke="#008080"/>
<path d="M98.25,93.23 L98.30,93.35 L98.40,93.61 L98.53,93.96 L98.70,94.38 L98.89,94.87 L99.10,95.42 L99.34,96.02 L99.60,96.68 L99.88,97.37 L100.18,98.12 L100.50,98.90 L100.84,99.72 L101.19,100.57 L101.56,101.45 L101.95,102.37 L102.35,103.31 L102.77,104.28 L103.20,105.27 L103.65,106.28 L104.11,107.32 L104.58,108.37 L105.07,109.44 L105.58,110.53 L106.09,111.63 L106.62,112.74 L107.16,113.87 L107.72,115.01 L108.29,116.16 L108.87,117.32 L109.46,118.48 L110.06,119.65 L110.68,120.83 L111.30,122.01 L111.94,123.20 L112.59,124.39 L113.25,125.59 L113.93,126.78 L114.61,127.98 L115.30,129.18 L116.01,130.37 L116.73,131.57 L117.45,132.77 L118.19,133.96 L118.94,135.15 L119.69,136.34 L120.46,137.53 L121.24,138.71 L122.03,139.89 L122.82,141.07 L123.63,142.24 L124.45,143.41 L125.27,144.57 L126.11,145.72 L126.96,146.87 L127.81,148.02 L128.68,149.16 L129.55,150.29 L130.43,151.42 L131.32,152.54 L132.23,153.66 L133.14,154.76 L134.06,155.86 L134.98,156.96 L135.92,158.05 L136.87,159.13 L137.82,160.20 L138.79,161.27 L139.76,162.33 L140.74,163.38 L141.73,164.43 L142.73,165.47 L143.73,166.50 L144.75,167.52 L145.77,168.54 L146.80,169.55 L147.84,170.55 L148.89,171.55 L149.95,172.54 L151.01,173.52 L152.09,174.50 L153.17,175.47 L154.26,176.43 L155.35,177.39 L156.46,178.34 L157.57,179.28 L158.69,180.22 L159.82,181.15 L160.96,182.07 L162.10,182.99 L163.25,183.90 L164.41,184.81 L165.58,185.71 L166.75,186.60 L167.94,187.49 L169.12,188.37 L170.32,189.25 L171.53,190.12 L172.74,190.98 L173.96,191.84 L175.19,192.70 L176.42,193.55 L177.66,194.39 L178.91,195.23 L180.17,196.07 L181.43,196.90 L182.70,197.72 L183.98,198.54 L185.27,199.36 L186.56,200.17 L187.86,200.97 L189.17,201.78 L190.48,202.57 L191.80,203.37 L193.13,204.16 L194.47,204.94 L195.81,205.72 L197.16,206.50 L198.51,207.27 L199.88,208.04 L201.25,208.80 L202.62,209.56 L204.01,210.32 L205.40,211.07 L206.80,211.82 L208.20,212.57 L209.61,213.31 L211.03,214.05 L212.45,214.79 L213.88,215.52 L215.32,216.25 L216.76,216.98 L218.21,217.70 L219.67,218.42 L221.14,219.14 L222.61,219.85 L224.08,220.56 L225.57,221.27 L227.06,221.97 L228.55,222.67 L230.06,223.37 L231.57,224.07 L233.08,224.76 L234.61,225.45 L236.13,226.14 L237.67,226.83 L239.21,227.51 L240.76,228.19 L242.31,228.87 L243.87,229.54 L245.44,230.21 L247.01,230.88 L248.59,231.55 L250.18,232.21 L251.77,232.88 L253.37,233.54 L254.97,234.19 L256.58,234.85 L258.20,235.50 L259.82,236.15 L261.45,236.80 L263.09,237.44 L264.73,238.09 L266.38,238.73 L268.03,239.37 L269.69,240.00 L271.35,240.64 L273.03,241.27 L274.70,241.90 L276.39,242.53 L278.08,243.16 L279.77,243.78 L281.47,244.40 L283.18,245.02 L284.89,245.64 L286.61,246.25 L288.34,246.87 L290.07,247.48 L291.81,248.09 L293.55,248.69 L295.30,249.30 L297.05,249.90 L298.81,250.50 L300.58,251.10 L302.35,251.70 L304.13,252.29 L305.91,252.89 L307.70,253.48 L309.50,254.07 L311.30,254.66 L313.10,255.24 L314.91,255.82 L316.73,256.41 L318.56,256.98 L320.39,257.56 L322.22,258.14 L324.06,258.71 L325.91,259.28 L327.76,259.85 L329.62,260.42 L331.48,260.99 L333.35,261.55 L335.22,262.11 L337.10,262.67 L338.99,263.23 L340.88,263.79 L342.77,264.34 L344.68,264.90 L346.58,265.45 L348.50,266.00 L350.42,266.55 L352.34,267.09 L354.27,267.64 L356.20,268.18 L358.14,268.72 L360.09,269.26 L362.04,269.79 L364.00,270.33 L365.96,270.86 L367.93,271.39 L369.90,271.92 L371.88,272.45 L373.86,272.97 L375.85,273.50 L377.85,274.02 L379.85,274.54 L381.85,275.06 L383.86,275.58 L385.88,276.09 L387.90,276.60 L389.93,277.12 L391.96,277.62 L393.99,278.13 L396.04,278.64 L398.08,279.14 L400.14,279.65 L402.19,280.15 L404.26,280.65 L406.33,281.14 L408.40,281.64" stroke="#0055cc"/>
<path d="M98.25,74.23 L98.30,74.37 L98.40,74.66 L98.53,75.05 L98.70,75.53 L98.89,76.08 L99.10,76.70 L99.34,77.38 L99.60,78.12 L99.88,78.91 L100.18,79.75 L100.50,80.63 L100.84,81.55 L101.19,82.51 L101.56,83.51 L101.95,84.54 L102.35,85.60 L102.77,86.69 L103.20,87.80 L103.65,88.94 L104.11,90.10 L104.58,91.29 L105.07,92.49 L105.58,93.71 L106.09,94.95 L106.62,96.20 L107.16,97.46 L107.72,98.74 L108.29,100.02 L108.87,101.32 L109.46,102.62 L110.06,103.93 L110.68,105.25 L111.30,106.57 L111.94,107.90 L112.59,109.22 L113.25,110.55 L113.93,111.89 L114.61,113.22 L115.30,114.55 L116.01,115.88 L116.73,117.21 L117.45,118.54 L118.19,119.87 L118.94,121.19 L119.69,122.51 L120.46,123.83 L121.24,125.14 L122.03,126.44 L122.82,127.74 L123.63,129.04 L124.45,130.33 L125.27,131.61 L126.11,132.89 L126.96,134.15 L127.81,135.42 L128.68,136.67 L129.55,137.92 L130.43,139.16 L131.32,140.39 L132.23,141.62 L133.14,142.83 L134.06,144.04 L134.98,145.24 L135.92,146.43 L136.87,147.62 L137.82,148.79 L138.79,149.96 L139.76,151.12 L140.74,152.27 L141.73,153.41 L142.73,154.55 L143.73,155.67 L144.75,156.79 L145.77,157.90 L146.80,159.00 L147.84,160.09 L148.89,161.17 L149.95,162.25 L151.01,163.32 L152.09,164.38 L153.17,165.43 L154.26,166.48 L155.35,167.52 L156.46,168.55 L157.57,169.57 L158.69,170.58 L159.82,171.59 L160.96,172.59 L162.10,173.59 L163.25,174.57 L164.41,175.55 L165.58,176.53 L166.75,177.49 L167.94,178.45 L169.12,179.41 L170.32,180.35 L171.53,181.29 L172.74,182.23 L173.96,183.16 L175.19,184.08 L176.42,185.00 L177.66,185.91 L178.91,186.81 L180.17,187.71 L181.43,188.61 L182.70,189.50 L183.98,190.38 L185.27,191.26 L186.56,192.13 L187.86,193.00 L189.17,193.87 L190.48,194.72 L191.80,195.58 L193.13,196.43 L194.47,197.27 L195.81,198.12 L197.16,198.95 L198.51,199.78 L199.88,200.61 L201.25,201.44 L202.62,202.26 L204.01,203.07 L205.40,203.88 L206.80,204.69 L208.20,205.49 L209.61,206.30 L211.03,207.09 L212.45,207.89 L213.88,208.68 L215.32,209.46 L216.76,210.24 L218.21,211.02 L219.67,211.80 L221.14,212.57 L222.61,213.34 L224.08,214.11 L225.57,214.87 L227.06,215.63 L228.55,216.39 L230.06,217.15 L231.57,217.90 L233.08,218.65 L234.61,219.39 L236.13,220.13 L237.67,220.88 L239.21,221.61 L240.76,222.35 L242.31,223.08 L243.87,223.81 L245.44,224.54 L247.01,225.26 L248.59,225.98 L250.18,226.70 L251.77,227.42 L253.37,228.13 L254.97,228.85 L256.58,229.56 L258.20,230.26 L259.82,230.97 L261.45,231.67 L263.09,232.37 L264.73,233.07 L266.38,233.76 L268.03,234.46 L269.69,235.15 L271.35,235.84 L273.03,236.52 L274.70,237.21 L276.39,237.89 L278.08,238.57 L279.77,239.25 L281.47,239.93 L283.18,240.60 L284.89,241.27 L286.61,241.94 L288.34,242.61 L290.07,243.27 L291.81,243.94 L293.55,244.60 L295.30,245.26 L297.05,245.92 L298.81,246.57 L300.58,247.22 L302.35,247.88 L304.13,248.53 L305.91,249.17 L307.70,249.82 L309.50,250.46 L311.30,251.10 L313.10,251.74 L314.91,252.38 L316.73,253.01 L318.56,253.65 L320.39,254.28 L322.22,254.91 L324.06,255.54 L325.91,256.16 L327.76,256.79 L329.62,257.41 L331.48,258.03 L333.35,258.65 L335.22,259.26 L337.10,259.88 L338.99,260.49 L340.88,261.10 L342.77,261.71 L344.68,262.31 L346.58,262.92 L348.50,263.52 L350.42,264.12 L352.34,264.72 L354.27,265.32 L356.20,265.91 L358.14,266.51 L360.09,267.10 L362.04,267.69 L364.00,268.28 L365.96,268.86 L367.93,269.45 L369.90,270.03 L371.88,270.61 L373.86,271.19 L375.85,271.77 L377.85,272.34 L379.85,272.91 L381.85,273.48 L383.86,274.05 L385.88,274.62 L387.90,275.19 L389.93,275.75 L391.96,276.31 L393.99,276.87 L396.04,277.43 L398.08,277.99 L400.14,278.54 L402.19,279.09 L404.26,279.64 L406.33,280.19 L408.40,280.74" stroke="#0000ff"/>
<path d="M98.25,65.67 L98.30,65.81 L98.40,66.09 L98.53,66.46 L98.70,66.92 L98.89,67.45 L99.10,68.05 L99.34,68.71 L99.60,69.42 L99.88,70.18 L100.18,70.99 L100.50,71.85 L100.84,72.74 L101.19,73.67 L101.56,74.64 L101.95,75.65 L102.35,76.68 L102.77,77.75 L103.20,78.84 L103.65,79.96 L104.11,81.10 L104.58,82.26 L105.07,83.45 L105.58,84.65 L106.09,85.88 L106.62,87.12 L107.16,88.37 L107.72,89.64 L108.29,90.92 L108.87,92.22 L109.46,93.52 L110.06,94.84 L110.68,96.16 L111.30,97.49 L111.94,98.83 L112.59,100.17 L113.25,101.52 L113.93,102.87 L114.61,104.23 L115.30,105.58 L116.01,106.94 L116.73,108.30 L117.45,109.66 L118.19,111.02 L118.94,112.38 L119.69,113.74 L120.46,115.10 L121.24,116.45 L122.03,117.80 L122.82,119.15 L123.63,120.50 L124.45,121.84 L125.27,123.17 L126.11,124.50 L126.96,125.83 L127.81,127.15 L128.68,128.46 L129.55,129.77 L130.43,131.08 L131.32,132.37 L132.23,133.66 L133.14,134.94 L134.06,136.22 L134.98,137.48 L135.92,138.74 L136.87,140.00 L137.82,141.24 L138.79,142.48 L139.76,143.71 L140.74,144.93 L141.73,146.14 L142.73,147.35 L143.73,148.54 L144.75,149.73 L145.77,150.91 L146.80,152.08 L147.84,153.25 L148.89,154.40 L149.95,155.55 L151.01,156.69 L152.09,157.82 L153.17,158.94 L154.26,160.06 L155.35,161.16 L156.46,162.26 L157.57,163.35 L158.69,164.44 L159.82,165.51 L160.96,166.58 L162.10,167.63 L163.25,168.69 L164.41,169.73 L165.58,170.77 L166.75,171.79 L167.94,172.82 L169.12,173.83 L170.32,174.84 L171.53,175.83 L172.74,176.83 L173.96,177.81 L175.19,178.79 L176.42,179.76 L177.66,180.73 L178.91,181.69 L180.17,182.64 L181.43,183.58 L182.70,184.52 L183.98,185.46 L185.27,186.38 L186.56,187.30 L187.86,188.22 L189.17,189.13 L190.48,190.03 L191.80,190.93 L193.13,191.82 L194.47,192.71 L195.81,193.59 L197.16,194.47 L198.51,195.34 L199.88,196.20 L201.25,197.07 L202.62,197.92 L204.01,198.77 L205.40,199.62 L206.80,200.46 L208.20,201.30 L209.61,202.13 L211.03,202.96 L212.45,203.78 L213.88,204.60 L215.32,205.42 L216.76,206.23 L218.21,207.04 L219.67,207.84 L221.14,208.64 L222.61,209.44 L224.08,210.23 L225.57,211.02 L227.06,211.81 L228.55,212.59 L230.06,213.37 L231.57,214.14 L233.08,214.91 L234.61,215.68 L236.13,216.45 L237.67,217.21 L239.21,217.97 L240.76,218.72 L242.31,219.48 L243.87,220.23 L245.44,220.97 L247.01,221.72 L248.59,222.46 L250.18,223.20 L251.77,223.93 L253.37,224.67 L254.97,225.40 L256.58,226.13 L258.20,226.85 L259.82,227.57 L261.45,228.29 L263.09,229.01 L264.73,229.73 L266.38,230.44 L268.03,231.15 L269.69,231.86 L271.35,232.57 L273.03,233.27 L274.70,233.98 L276.39,234.68 L278.08,235.37 L279.77,236.07 L281.47,236.76 L283.18,237.46 L284.89,238.14 L286.61,238.83 L288.34,239.52 L290.07,240.20 L291.81,240.88 L293.55,241.56 L295.30,242.24 L297.05,242.92 L298.81,243.59 L300.58,244.27 L302.35,244.94 L304.13,245.61 L305.91,246.27 L307.70,246.94 L309.50,247.60 L311.30,248.26 L313.10,248.92 L314.91,249.58 L316.73,250.24 L318.56,250.89 L320.39,251.55 L322.22,252.20 L324.06,252.85 L325.91,253.50 L327.76,254.15 L329.62,254.79 L331.48,255.43 L333.35,256.08 L335.22,256.72 L337.10,257.36 L338.99,257.99 L340.88,258.63 L342.77,259.26 L344.68,259.90 L346.58,260.53 L348.50,261.16 L350.42,261.78 L352.34,262.41 L354.27,263.04 L356.20,263.66 L358.14,264.28 L360.09,264.90 L362.04,265.52 L364.00,266.14 L365.96,266.76 L367.93,267.37 L369.90,267.98 L371.88,268.59 L373.86,269.20 L375.85,269.81 L377.85,270.42 L379.85,271.03 L381.85,271.63 L383.86,272.23 L385.88,272.83 L387.90,273.43 L389.93,274.03 L391.96,274.63 L393.99,275.22 L396.04,275.82 L398.08,276.41 L400.14,277.00 L402.19,277.59 L404.26,278.18 L406.33,278.77 L408.40,279.35" stroke="#000000" stroke-width="2.9"/>
</g>
<rect x="94.6" y="24.8" width="313.80" height="308.50" fill="none" stroke="#000" stroke-width="2"/>
<text x="91.14" y="358.80" stroke="#000" stroke-width="0.30">0</text>
<line x1="173.05" y1="333.3" x2="173.05" y2="325.1" stroke="#000" stroke-width="1.7"/>
<text x="169.59" y="358.80" stroke="#000" stroke-width="0.30">1</text>
<line x1="251.50" y1="333.3" x2="251.50" y2="325.1" stroke="#000" stroke-width="1.7"/>
<text x="248.04" y="358.80" stroke="#000" stroke-width="0.30">2</text>
<line x1="329.95" y1="333.3" x2="329.95" y2="325.1" stroke="#000" stroke-width="1.7"/>
<text x="326.49" y="358.80" stroke="#000" stroke-width="0.30">3</text>
<text x="404.94" y="358.80" stroke="#000" stroke-width="0.30">4</text>
<line x1="94.6" y1="297.01" x2="102.8" y2="297.01" stroke="#000" stroke-width="1.7"/>
<text x="41.37" y="301.71" stroke="#000" stroke-width="0.30">0.35</text>
<line x1="94.6" y1="206.27" x2="102.8" y2="206.27" stroke="#000" stroke-width="1.7"/>
<text x="52.60" y="210.97" stroke="#000" stroke-width="0.30">0.4</text>
<line x1="94.6" y1="115.54" x2="102.8" y2="115.54" stroke="#000" stroke-width="1.7"/>
<text x="41.37" y="120.24" stroke="#000" stroke-width="0.30">0.45</text>
<text x="52.85" y="29.50" stroke="#000" stroke-width="0.30">0.5</text>
<text x="165.69" y="375.80" stroke="#000" stroke-width="0.30">Rényi parameter</text>
<text x="325.33" y="375.80" font-style="italic" stroke="#000" stroke-width="0.30">q</text>
<text transform="translate(31.00,281.01) rotate(-90)" stroke="#000" stroke-width="0.30">Entropy per site</text>
<text transform="translate(31.00,128.47) rotate(-90)" font-style="italic" stroke="#000" stroke-width="0.30">S</text>
<text transform="translate(34.00,115.39) rotate(-90)" font-style="italic" font-size="15.0" stroke="#000" stroke-width="0.22">q</text>
<line x1="35.9" y1="103.9" x2="15.2" y2="95.8" stroke="#000" stroke-width="0.9"/>
<text transform="translate(31.00,93.42) rotate(-90)" font-style="italic" stroke="#000" stroke-width="0.30">N</text>
<text x="117.67" y="43.30" font-weight="bold" font-size="21" stroke="#000" stroke-width="0.30">a</text>
<line x1="389.3" y1="37.15" x2="404" y2="37.15" stroke="#ffdd00" stroke-width="2.45"/>
<text x="365.39" y="42.05" stroke="#000" stroke-width="0.30">8</text>
<path d="M348.00,35.60 h10.4 M348.00,39.50 h10.4" stroke="#000" stroke-width="1.7" fill="none"/>
<text x="325.58" y="42.05" font-style="italic" stroke="#000" stroke-width="0.30">N</text>
<line x1="389.3" y1="58.12" x2="404" y2="58.12" stroke="#ffbb22" stroke-width="2.45"/>
<text x="354.06" y="63.02" stroke="#000" stroke-width="0.30">12</text>
<path d="M335.90,56.57 h10.4 M335.90,60.47 h10.4" stroke="#000" stroke-width="1.7" fill="none"/>
<text x="313.48" y="63.02" font-style="italic" stroke="#000" stroke-width="0.30">N</text>
<line x1="389.3" y1="79.09" x2="404" y2="79.09" stroke="#ff8800" stroke-width="2.45"/>
<text x="353.90" y="83.99" stroke="#000" stroke-width="0.30">16</text>
<path d="M335.90,77.54 h10.4 M335.90,81.44 h10.4" stroke="#000" stroke-width="1.7" fill="none"/>
<text x="313.48" y="83.99" font-style="italic" stroke="#000" stroke-width="0.30">N</text>
<line x1="389.3" y1="100.06" x2="404" y2="100.06" stroke="#ff4400" stroke-width="2.45"/>
<text x="353.80" y="104.96" stroke="#000" stroke-width="0.30">20</text>
<path d="M335.90,98.51 h10.4 M335.90,102.41 h10.4" stroke="#000" stroke-width="1.7" fill="none"/>
<text x="313.48" y="104.96" font-style="italic" stroke="#000" stroke-width="0.30">N</text>
<line x1="389.3" y1="121.03" x2="404" y2="121.03" stroke="#00bb44" stroke-width="2.45"/>
<text x="365.39" y="125.93" stroke="#000" stroke-width="0.30">8</text>
<path d="M348.00,119.48 h10.4 M348.00,123.38 h10.4" stroke="#000" stroke-width="1.7" fill="none"/>
<text x="325.58" y="125.93" font-style="italic" stroke="#000" stroke-width="0.30">N</text>
<line x1="389.3" y1="142.00" x2="404" y2="142.00" stroke="#008080" stroke-width="2.45"/>
<text x="354.06" y="146.90" stroke="#000" stroke-width="0.30">12</text>
<path d="M335.90,140.45 h10.4 M335.90,144.35 h10.4" stroke="#000" stroke-width="1.7" fill="none"/>
<text x="313.48" y="146.90" font-style="italic" stroke="#000" stroke-width="0.30">N</text>
<line x1="389.3" y1="162.97" x2="404" y2="162.97" stroke="#0055cc" stroke-width="2.45"/>
<text x="353.90" y="167.87" stroke="#000" stroke-width="0.30">16</text>
<path d="M335.90,161.42 h10.4 M335.90,165.32 h10.4" stroke="#000" stroke-width="1.7" fill="none"/>
<text x="313.48" y="167.87" font-style="italic" stroke="#000" stroke-width="0.30">N</text>
<line x1="389.3" y1="183.94" x2="404" y2="183.94" stroke="#0000ff" stroke-width="2.45"/>
<text x="353.80" y="188.84" stroke="#000" stroke-width="0.30">20</text>
<path d="M335.90,182.39 h10.4 M335.90,186.29 h10.4" stroke="#000" stroke-width="1.7" fill="none"/>
<text x="313.48" y="188.84" font-style="italic" stroke="#000" stroke-width="0.30">N</text>
<line x1="389.3" y1="204.91" x2="404" y2="204.91" stroke="#000000" stroke-width="2.9"/>
<text x="353.59" y="209.81" stroke="#000" stroke-width="0.30">24</text>
<path d="M335.90,203.36 h10.4 M335.90,207.26 h10.4" stroke="#000" stroke-width="1.7" fill="none"/>
<text x="313.48" y="209.81" font-style="italic" stroke="#000" stroke-width="0.30">N</text>
<text x="150.74" y="71.90" font-style="italic" stroke="#000" stroke-width="0.30">h</text>
<path d="M168.00,65.45 h10.4 M168.00,69.35 h10.4" stroke="#000" stroke-width="1.7" fill="none"/>
<text x="184.67" y="71.90" stroke="#000" stroke-width="0.30">0,</text>
<text x="211.35" y="71.90" font-style="italic" stroke="#000" stroke-width="0.30">J</text>
<path d="M222.40,75.50 H234.90 M228.65,75.50 V65.20" stroke="#000" stroke-width="0.9" fill="none"/>
<path d="M244.00,65.45 h10.4 M244.00,69.35 h10.4" stroke="#000" stroke-width="1.7" fill="none"/>
<text x="262.15" y="71.90" stroke="#000" stroke-width="0.30">10</text>
<text x="164.65" y="156.00" font-style="italic" font-size="14.5" stroke="#000" stroke-width="0.21">m</text>
<text x="176.86" y="159.20" font-size="12.5" stroke="#000" stroke-width="0.18">sat</text>
<line x1="164.1" y1="161.3" x2="195.9" y2="161.3" stroke="#000" stroke-width="1"/>
<text x="175.62" y="173.90" font-size="14.0" stroke="#000" stroke-width="0.20">2</text>
<text x="199.14" y="166.10" stroke="#000" stroke-width="0.30">,</text>
<text x="213.65" y="166.10" font-style="italic" stroke="#000" stroke-width="0.30">J</text>
<path d="M224.20,169.50 H235.90 M230.05,169.50 V159.20" stroke="#000" stroke-width="0.9" fill="none"/>
<path d="M245.70,159.65 h10.4 M245.70,163.55 h10.4" stroke="#000" stroke-width="1.7" fill="none"/>
<text x="263.43" y="166.10" stroke="#000" stroke-width="0.30">4</text>
<path d="M312.61,28.21 L311.78,28.32 L310.98,28.48 L310.24,28.69 L309.54,28.96 L308.90,29.28 L308.30,29.66 L307.76,30.11 L307.26,30.62 L306.83,31.19 L306.46,31.82 L306.15,32.49 L305.90,33.21 L305.70,33.97 L305.55,34.77 L305.45,35.60 L305.45,57.90 L305.50,58.80 L305.51,59.61 L305.46,60.36 L305.37,61.03 L305.22,61.64 L305.03,62.21 L304.78,62.73 L304.46,63.23 L304.07,63.70 L303.60,64.15 L303.04,64.57 L302.40,64.97 L301.66,65.34 L300.83,65.69 L299.90,66.01 L300.10,66.79 L301.09,66.60 L302.03,66.38 L302.90,66.12 L303.71,65.81 L304.47,65.45 L305.18,65.02 L305.82,64.52 L306.41,63.94 L306.92,63.29 L307.37,62.56 L307.74,61.76 L308.04,60.90 L308.28,59.97 L308.44,58.97 L308.55,57.90 L308.55,35.60 L308.49,34.93 L308.47,34.31 L308.48,33.73 L308.54,33.19 L308.63,32.68 L308.76,32.21 L308.94,31.77 L309.17,31.34 L309.46,30.94 L309.81,30.55 L310.24,30.18 L310.75,29.84 L311.34,29.53 L312.02,29.24 L312.79,28.99Z M312.79,103.81 L312.02,103.56 L311.34,103.27 L310.75,102.96 L310.24,102.62 L309.81,102.25 L309.46,101.86 L309.17,101.46 L308.94,101.03 L308.76,100.59 L308.63,100.12 L308.54,99.61 L308.48,99.07 L308.47,98.49 L308.49,97.87 L308.55,97.20 L308.55,74.90 L308.44,73.83 L308.28,72.83 L308.04,71.90 L307.74,71.04 L307.37,70.24 L306.92,69.51 L306.41,68.86 L305.82,68.28 L305.18,67.78 L304.47,67.35 L303.71,66.99 L302.90,66.68 L302.03,66.42 L301.09,66.20 L300.10,66.01 L299.90,66.79 L300.83,67.11 L301.66,67.46 L302.40,67.83 L303.04,68.23 L303.60,68.65 L304.07,69.10 L304.46,69.57 L304.78,70.07 L305.03,70.59 L305.22,71.16 L305.37,71.77 L305.46,72.44 L305.51,73.19 L305.50,74.00 L305.45,74.90 L305.45,97.20 L305.55,98.03 L305.70,98.83 L305.90,99.59 L306.15,100.31 L306.46,100.98 L306.83,101.61 L307.26,102.18 L307.76,102.69 L308.30,103.14 L308.90,103.52 L309.54,103.84 L310.24,104.11 L310.98,104.32 L311.78,104.48 L312.61,104.59Z" fill="#000" stroke="#000" stroke-width="0.3" stroke-linejoin="round"/>
<path d="M304.41,114.41 L303.58,114.52 L302.78,114.68 L302.04,114.89 L301.34,115.16 L300.70,115.48 L300.10,115.86 L299.56,116.31 L299.06,116.82 L298.63,117.39 L298.26,118.02 L297.95,118.69 L297.70,119.41 L297.50,120.17 L297.35,120.97 L297.25,121.80 L297.25,151.80 L297.30,152.70 L297.31,153.51 L297.26,154.25 L297.16,154.93 L297.02,155.54 L296.82,156.10 L296.56,156.63 L296.24,157.12 L295.84,157.59 L295.35,158.04 L294.77,158.46 L294.10,158.86 L293.33,159.24 L292.47,159.59 L291.50,159.91 L291.70,160.69 L292.73,160.50 L293.69,160.29 L294.59,160.03 L295.43,159.72 L296.20,159.35 L296.92,158.93 L297.58,158.43 L298.18,157.85 L298.71,157.20 L299.16,156.47 L299.54,155.67 L299.84,154.80 L300.08,153.87 L300.24,152.87 L300.35,151.80 L300.35,121.80 L300.29,121.13 L300.27,120.51 L300.28,119.93 L300.34,119.39 L300.43,118.88 L300.56,118.41 L300.74,117.97 L300.97,117.54 L301.26,117.14 L301.61,116.75 L302.04,116.38 L302.55,116.04 L303.14,115.73 L303.82,115.44 L304.59,115.19Z M304.59,205.71 L303.82,205.46 L303.14,205.17 L302.55,204.86 L302.04,204.52 L301.61,204.15 L301.26,203.76 L300.97,203.36 L300.74,202.93 L300.56,202.49 L300.43,202.02 L300.34,201.51 L300.28,200.97 L300.27,200.39 L300.29,199.77 L300.35,199.10 L300.35,168.80 L300.24,167.73 L300.08,166.73 L299.84,165.80 L299.54,164.93 L299.16,164.13 L298.71,163.40 L298.18,162.75 L297.58,162.17 L296.92,161.67 L296.20,161.25 L295.43,160.88 L294.59,160.57 L293.69,160.31 L292.73,160.10 L291.70,159.91 L291.50,160.69 L292.47,161.01 L293.33,161.36 L294.10,161.74 L294.77,162.14 L295.35,162.56 L295.84,163.01 L296.24,163.48 L296.56,163.97 L296.82,164.50 L297.02,165.06 L297.16,165.67 L297.26,166.35 L297.31,167.09 L297.30,167.90 L297.25,168.80 L297.25,199.10 L297.35,199.93 L297.50,200.73 L297.70,201.49 L297.95,202.21 L298.26,202.88 L298.63,203.51 L299.06,204.08 L299.56,204.59 L300.10,205.04 L300.70,205.42 L301.34,205.74 L302.04,206.01 L302.78,206.22 L303.58,206.38 L304.41,206.49Z" fill="#000" stroke="#000" stroke-width="0.3" stroke-linejoin="round"/>
<text transform="translate(212.3,197.7) rotate(22.8) translate(-1.72,0)" font-size="20.9" fill="#0000ff" stroke="#0000ff" stroke-width="0.3">Luttinger Liquid</text>
<text x="172.71" y="320.70" font-size="20.9" fill="#ff0000" stroke="#ff0000" stroke-width="0.30">gapped</text>
<clipPath id="cb"><rect x="484.25" y="25.0" width="339.55" height="304.0"/></clipPath>
<g clip-path="url(#cb)">
<rect x="485.60" y="314.93" width="9.0" height="1.35" fill="#0000ff" fill-opacity="0.92"/>
<rect x="485.60" y="306.32" width="9.0" height="1.35" fill="#0000ff" fill-opacity="0.92"/>
<rect x="485.60" y="284.72" width="9.0" height="1.35" fill="#0000ff" fill-opacity="0.92"/>
<rect x="509.02" y="283.93" width="9.0" height="1.35" fill="#0000ff" fill-opacity="0.92"/>
<rect x="509.02" y="275.22" width="9.0" height="1.35" fill="#0000ff" fill-opacity="0.92"/>
<rect x="509.02" y="272.43" width="9.0" height="1.35" fill="#0000ff" fill-opacity="0.92"/>
<rect x="509.02" y="256.82" width="9.0" height="1.35" fill="#0000ff" fill-opacity="0.92"/>
<rect x="509.02" y="255.02" width="9.0" height="1.35" fill="#0000ff" fill-opacity="0.92"/>
<rect x="509.02" y="250.72" width="9.0" height="1.35" fill="#0000ff" fill-opacity="0.92"/>
<rect x="509.02" y="244.12" width="9.0" height="1.35" fill="#0000ff" fill-opacity="0.92"/>
<rect x="509.02" y="236.32" width="9.0" height="1.35" fill="#0000ff" fill-opacity="0.92"/>
<rect x="509.02" y="214.72" width="9.0" height="1.35" fill="#0000ff" fill-opacity="0.92"/>
<rect x="509.02" y="201.32" width="9.0" height="1.35" fill="#0000ff" fill-opacity="0.92"/>
<rect x="532.44" y="260.82" width="9.0" height="1.35" fill="#0000ff" fill-opacity="0.92"/>
<rect x="532.44" y="252.52" width="9.0" height="1.35" fill="#0000ff" fill-opacity="0.92"/>
<rect x="532.44" y="248.62" width="9.0" height="1.35" fill="#0000ff" fill-opacity="0.92"/>
<rect x="532.44" y="161.92" width="9.0" height="1.35" fill="#0000ff" fill-opacity="0.92"/>
<rect x="532.44" y="156.52" width="9.0" height="1.35" fill="#0000ff" fill-opacity="0.92"/>
<rect x="532.44" y="247.90" width="9.0" height="0.50" fill="#0000ff" fill-opacity="1"/>
<rect x="532.44" y="237.10" width="9.0" height="9.80" fill="#0000ff" fill-opacity="1"/>
<rect x="532.44" y="230.00" width="9.0" height="1.70" fill="#0000ff" fill-opacity="1"/>
<rect x="532.44" y="226.70" width="9.0" height="2.00" fill="#0000ff" fill-opacity="1"/>
<rect x="532.44" y="222.90" width="9.0" height="3.30" fill="#0000ff" fill-opacity="1"/>
<rect x="532.44" y="220.60" width="9.0" height="1.50" fill="#0000ff" fill-opacity="1"/>
<rect x="532.44" y="218.10" width="9.0" height="2.00" fill="#0000ff" fill-opacity="1"/>
<rect x="532.44" y="212.90" width="9.0" height="4.20" fill="#0000ff" fill-opacity="1"/>
<rect x="532.44" y="208.90" width="9.0" height="2.00" fill="#0000ff" fill-opacity="1"/>
<rect x="532.44" y="205.80" width="9.0" height="1.60" fill="#0000ff" fill-opacity="1"/>
<rect x="532.44" y="195.00" width="9.0" height="8.80" fill="#0000ff" fill-opacity="1"/>
<rect x="532.44" y="189.40" width="9.0" height="3.30" fill="#0000ff" fill-opacity="1"/>
<rect x="532.44" y="184.60" width="9.0" height="3.00" fill="#0000ff" fill-opacity="1"/>
<rect x="532.44" y="179.50" width="9.0" height="1.80" fill="#0000ff" fill-opacity="1"/>
<rect x="532.44" y="168.80" width="9.0" height="7.70" fill="#0000ff" fill-opacity="1"/>
<rect x="532.44" y="149.90" width="9.0" height="3.10" fill="#0000ff" fill-opacity="1"/>
<rect x="532.44" y="145.60" width="9.0" height="2.30" fill="#0000ff" fill-opacity="1"/>
<rect x="532.44" y="142.60" width="9.0" height="2.50" fill="#0000ff" fill-opacity="1"/>
<rect x="532.44" y="128.10" width="9.0" height="3.00" fill="#0000ff" fill-opacity="1"/>
<rect x="532.44" y="105.90" width="9.0" height="3.00" fill="#0000ff" fill-opacity="1"/>
<rect x="532.44" y="87.10" width="9.0" height="5.50" fill="#0000ff" fill-opacity="1"/>
<rect x="532.44" y="80.20" width="9.0" height="5.10" fill="#0000ff" fill-opacity="1"/>
<rect x="532.44" y="67.30" width="9.0" height="6.70" fill="#0000ff" fill-opacity="1"/>
<rect x="532.44" y="239.90" width="9.0" height="0.8" fill="#fff" fill-opacity="0.3"/>
<rect x="532.44" y="243.00" width="9.0" height="0.8" fill="#fff" fill-opacity="0.3"/>
<rect x="532.44" y="214.20" width="9.0" height="0.8" fill="#fff" fill-opacity="0.3"/>
<rect x="532.44" y="199.20" width="9.0" height="0.8" fill="#fff" fill-opacity="0.3"/>
<rect x="532.44" y="201.30" width="9.0" height="0.8" fill="#fff" fill-opacity="0.3"/>
<rect x="532.44" y="186.20" width="9.0" height="0.8" fill="#fff" fill-opacity="0.3"/>
<rect x="532.44" y="172.70" width="9.0" height="0.8" fill="#fff" fill-opacity="0.3"/>
<rect x="532.44" y="68.90" width="9.0" height="0.8" fill="#fff" fill-opacity="0.45"/>
<rect x="532.44" y="70.30" width="9.0" height="0.8" fill="#fff" fill-opacity="0.45"/>
<rect x="555.86" y="229.20" width="9.0" height="1.8" fill="#0000ff" fill-opacity="1"/>
<rect x="555.86" y="0.00" width="9.0" height="222.60" fill="#0000ff" fill-opacity="1"/>
<rect x="555.86" y="213.90" width="9.0" height="0.8" fill="#fff" fill-opacity="0.45"/>
<rect x="555.86" y="218.50" width="9.0" height="0.8" fill="#fff" fill-opacity="0.45"/>
<rect x="555.86" y="210.00" width="9.0" height="0.8" fill="#fff" fill-opacity="0.2"/>
<rect x="579.27" y="206.20" width="9.0" height="1.6" fill="#0000ff" fill-opacity="1"/>
<rect x="579.27" y="198.10" width="9.0" height="1.6" fill="#0000ff" fill-opacity="1"/>
<rect x="579.27" y="193.20" width="9.0" height="1.6" fill="#0000ff" fill-opacity="1"/>
<rect x="579.27" y="0.00" width="9.0" height="191.00" fill="#0000ff" fill-opacity="1"/>
<rect x="579.27" y="186.90" width="9.0" height="0.8" fill="#fff" fill-opacity="0.45"/>
<rect x="626.11" y="151.10" width="9.0" height="2.6" fill="#0000ff" fill-opacity="1"/>
<rect x="672.94" y="96.40" width="9.0" height="2.6" fill="#0000ff" fill-opacity="1"/>
<rect x="719.78" y="42.10" width="9.0" height="2.6" fill="#0000ff" fill-opacity="1"/>
<line x1="484.25" y1="322.7" x2="739.45" y2="25.0" stroke="#ff4400" stroke-width="1.35" stroke-dasharray="3.9,6.32" stroke-dashoffset="-0.1"/>
</g>
<rect x="484.25" y="25.0" width="339.55" height="304.0" fill="none" stroke="#000" stroke-width="2"/>
<line x1="501.81" y1="329.0" x2="501.81" y2="320.8" stroke="#000" stroke-width="1.7"/>
<text x="492.90" y="354.80" stroke="#000" stroke-width="0.30">10</text>
<line x1="560.36" y1="329.0" x2="560.36" y2="320.8" stroke="#000" stroke-width="1.7"/>
<text x="551.44" y="354.80" stroke="#000" stroke-width="0.30">20</text>
<line x1="618.90" y1="329.0" x2="618.90" y2="320.8" stroke="#000" stroke-width="1.7"/>
<text x="609.99" y="354.80" stroke="#000" stroke-width="0.30">30</text>
<line x1="677.44" y1="329.0" x2="677.44" y2="320.8" stroke="#000" stroke-width="1.7"/>
<text x="668.53" y="354.80" stroke="#000" stroke-width="0.30">40</text>
<line x1="735.99" y1="329.0" x2="735.99" y2="320.8" stroke="#000" stroke-width="1.7"/>
<text x="727.07" y="354.80" stroke="#000" stroke-width="0.30">50</text>
<line x1="794.53" y1="329.0" x2="794.53" y2="320.8" stroke="#000" stroke-width="1.7"/>
<text x="785.62" y="354.80" stroke="#000" stroke-width="0.30">60</text>
<text x="460.05" y="333.80" stroke="#000" stroke-width="0.30">2</text>
<line x1="484.25" y1="288.47" x2="492.45" y2="288.47" stroke="#000" stroke-width="1.7"/>
<text x="459.58" y="293.27" stroke="#000" stroke-width="0.30">4</text>
<line x1="484.25" y1="247.93" x2="492.45" y2="247.93" stroke="#000" stroke-width="1.7"/>
<text x="459.89" y="252.73" stroke="#000" stroke-width="0.30">6</text>
<line x1="484.25" y1="207.40" x2="492.45" y2="207.40" stroke="#000" stroke-width="1.7"/>
<text x="459.89" y="212.20" stroke="#000" stroke-width="0.30">8</text>
<line x1="484.25" y1="166.87" x2="492.45" y2="166.87" stroke="#000" stroke-width="1.7"/>
<text x="448.30" y="171.67" stroke="#000" stroke-width="0.30">10</text>
<line x1="484.25" y1="126.33" x2="492.45" y2="126.33" stroke="#000" stroke-width="1.7"/>
<text x="448.56" y="131.13" stroke="#000" stroke-width="0.30">12</text>
<line x1="484.25" y1="85.80" x2="492.45" y2="85.80" stroke="#000" stroke-width="1.7"/>
<text x="448.09" y="90.60" stroke="#000" stroke-width="0.30">14</text>
<line x1="484.25" y1="45.27" x2="492.45" y2="45.27" stroke="#000" stroke-width="1.7"/>
<text x="448.40" y="50.07" stroke="#000" stroke-width="0.30">16</text>
<text x="586.47" y="375.60" stroke="#000" stroke-width="0.30">System size</text>
<text x="704.98" y="375.60" font-style="italic" stroke="#000" stroke-width="0.30">N</text>
<text transform="translate(443.30,328.71) rotate(-90)" stroke="#000" stroke-width="0.30">Probability spectrum</text>
<path d="M429.2,127.5 L431.4,124.3 M431.0,126.7 C432.4,130 435.8,133.2 438.9,133.0 C441.6,132.8 442.8,130.5 443.7,128.3 C444.3,126.8 445.2,126.0 446.2,126.2 C447.6,126.5 447.8,128.5 447.0,129.9" fill="none" stroke="#000" stroke-width="1.15" stroke-linecap="round"/>
<text transform="translate(447.90,123.82) rotate(-90)" font-style="italic" font-size="15.0" stroke="#000" stroke-width="0.22">i</text>
<path d="M436.7,111.4 V101.1 M440.3,111.4 V101.1" stroke="#000" stroke-width="1.1" fill="none"/>
<path d="M438.2,91.4 V78.8" stroke="#000" stroke-width="0.9" fill="none"/>
<text transform="translate(443.30,73.30) rotate(-90)" stroke="#000" stroke-width="0.30">ln(</text>
<text transform="translate(443.30,49.08) rotate(-90)" font-style="italic" stroke="#000" stroke-width="0.30">p</text>
<text transform="translate(447.90,37.23) rotate(-90)" font-style="italic" font-size="15.0" stroke="#000" stroke-width="0.22">i</text>
<text transform="translate(443.30,32.76) rotate(-90)" stroke="#000" stroke-width="0.30">)</text>
<text x="501.03" y="43.50" font-weight="bold" font-size="21" stroke="#000" stroke-width="0.30">b</text>
<rect x="696.1" y="164.0" width="119.30" height="107.70" fill="#fff" stroke="none"/>
<line x1="696.1" y1="254.6" x2="815.4" y2="254.6" stroke="#444" stroke-width="1.1"/>
<path d="M709.36,182.10 V189.20 M705.36,182.10 H713.36 M705.36,189.20 H713.36 M705.36,185.65 H713.36" stroke="#0000ff" stroke-width="2.0" fill="none"/>
<path d="M718.61,209.40 H726.61 M722.61,205.40 V213.40" stroke="#0000ff" stroke-width="2.6" fill="none"/>
<path d="M731.87,230.40 H739.87 M735.87,226.40 V234.40" stroke="#0000ff" stroke-width="2.6" fill="none"/>
<path d="M745.12,240.20 H753.12 M749.12,236.20 V244.20" stroke="#0000ff" stroke-width="2.6" fill="none"/>
<path d="M771.63,248.00 H779.63 M775.63,244.00 V252.00" stroke="#0000ff" stroke-width="2.6" fill="none"/>
<path d="M798.14,252.80 H806.14 M802.14,248.80 V256.80" stroke="#0000ff" stroke-width="2.6" fill="none"/>
<path d="M745.22,233.20 L753.02,241.00 M745.22,241.00 L753.02,233.20 M744.62,237.10 H753.62" stroke="#ff4400" stroke-width="2.9" fill="none"/>
<path d="M771.73,241.00 L779.53,248.80 M771.73,248.80 L779.53,241.00 M771.13,244.90 H780.13" stroke="#ff4400" stroke-width="2.9" fill="none"/>
<path d="M798.24,244.40 L806.04,252.20 M798.24,252.20 L806.04,244.40 M797.64,248.30 H806.64" stroke="#ff4400" stroke-width="2.9" fill="none"/>
<rect x="696.1" y="164.0" width="119.30" height="107.70" fill="none" stroke="#000" stroke-width="2"/>
<line x1="722.61" y1="271.7" x2="722.61" y2="263.5" stroke="#000" stroke-width="1.7"/>
<line x1="749.12" y1="271.7" x2="749.12" y2="263.5" stroke="#000" stroke-width="1.7"/>
<line x1="775.63" y1="271.7" x2="775.63" y2="263.5" stroke="#000" stroke-width="1.7"/>
<line x1="802.14" y1="271.7" x2="802.14" y2="263.5" stroke="#000" stroke-width="1.7"/>
<text x="692.94" y="296.40" stroke="#000" stroke-width="0.30">0</text>
<text x="719.45" y="296.40" stroke="#000" stroke-width="0.30">1</text>
<text x="745.97" y="296.40" stroke="#000" stroke-width="0.30">2</text>
<text x="772.48" y="296.40" stroke="#000" stroke-width="0.30">3</text>
<text x="798.99" y="296.40" stroke="#000" stroke-width="0.30">4</text>
<text x="654.11" y="276.10" stroke="#000" stroke-width="0.30">0.6</text>
<line x1="696.1" y1="249.03" x2="704.3000000000001" y2="249.03" stroke="#000" stroke-width="1.7"/>
<text x="654.11" y="253.43" stroke="#000" stroke-width="0.30">0.8</text>
<line x1="696.1" y1="226.35" x2="704.3000000000001" y2="226.35" stroke="#000" stroke-width="1.7"/>
<text x="671.49" y="230.75" stroke="#000" stroke-width="0.30">1</text>
<line x1="696.1" y1="203.68" x2="704.3000000000001" y2="203.68" stroke="#000" stroke-width="1.7"/>
<text x="654.26" y="208.08" stroke="#000" stroke-width="0.30">1.2</text>
<line x1="696.1" y1="181.01" x2="704.3000000000001" y2="181.01" stroke="#000" stroke-width="1.7"/>
<text x="653.80" y="185.41" stroke="#000" stroke-width="0.30">1.4</text>
<text x="665.65" y="315.00" letter-spacing="0.15" stroke="#000" stroke-width="0.30">rung coupling</text>
<text x="798.45" y="315.00" font-style="italic" stroke="#000" stroke-width="0.30">J</text>
<path d="M809.60,318.40 H821.00 M815.30,318.40 V308.20" stroke="#000" stroke-width="0.9" fill="none"/>
<text transform="translate(651.50,291.11) rotate(-90)" stroke="#000" stroke-width="0.30">LL parameter</text>
<text transform="translate(651.50,160.42) rotate(-90)" font-style="italic" stroke="#000" stroke-width="0.30">K</text>
<text x="739.73" y="195.60" font-style="italic" stroke="#000" stroke-width="0.30">S</text>
<path d="M761.95,195.1 C759.5,191.0 754.4,191.2 754.4,195.1 C754.4,199.0 759.5,199.2 761.95,195.1 C764.4,191.0 769.5,191.2 769.5,195.1 C769.5,199.0 764.4,199.2 761.95,195.1 Z" fill="none" stroke="#000" stroke-width="0.95"/>
<text x="750.63" y="215.90" font-style="italic" stroke="#000" stroke-width="0.30">S</text>
<text x="763.25" y="220.90" font-size="14.0" stroke="#000" stroke-width="0.20">1</text>
<path d="M784.2,191.6 H803.8 M785.4,187.9 V195.4 M802.6,187.9 V195.4 M794,187.9 V195.4" stroke="#0000ff" stroke-width="2.5" fill="none"/>
<path d="M784.2,212.5 H803.8 M785.4,208.8 V216.3 M802.6,208.8 V216.3 M790.0,208.2 L798.2,216.9 M790.0,216.9 L798.2,208.2" stroke="#ff4400" stroke-width="2.5" fill="none"/>
</svg>
</body></html>
